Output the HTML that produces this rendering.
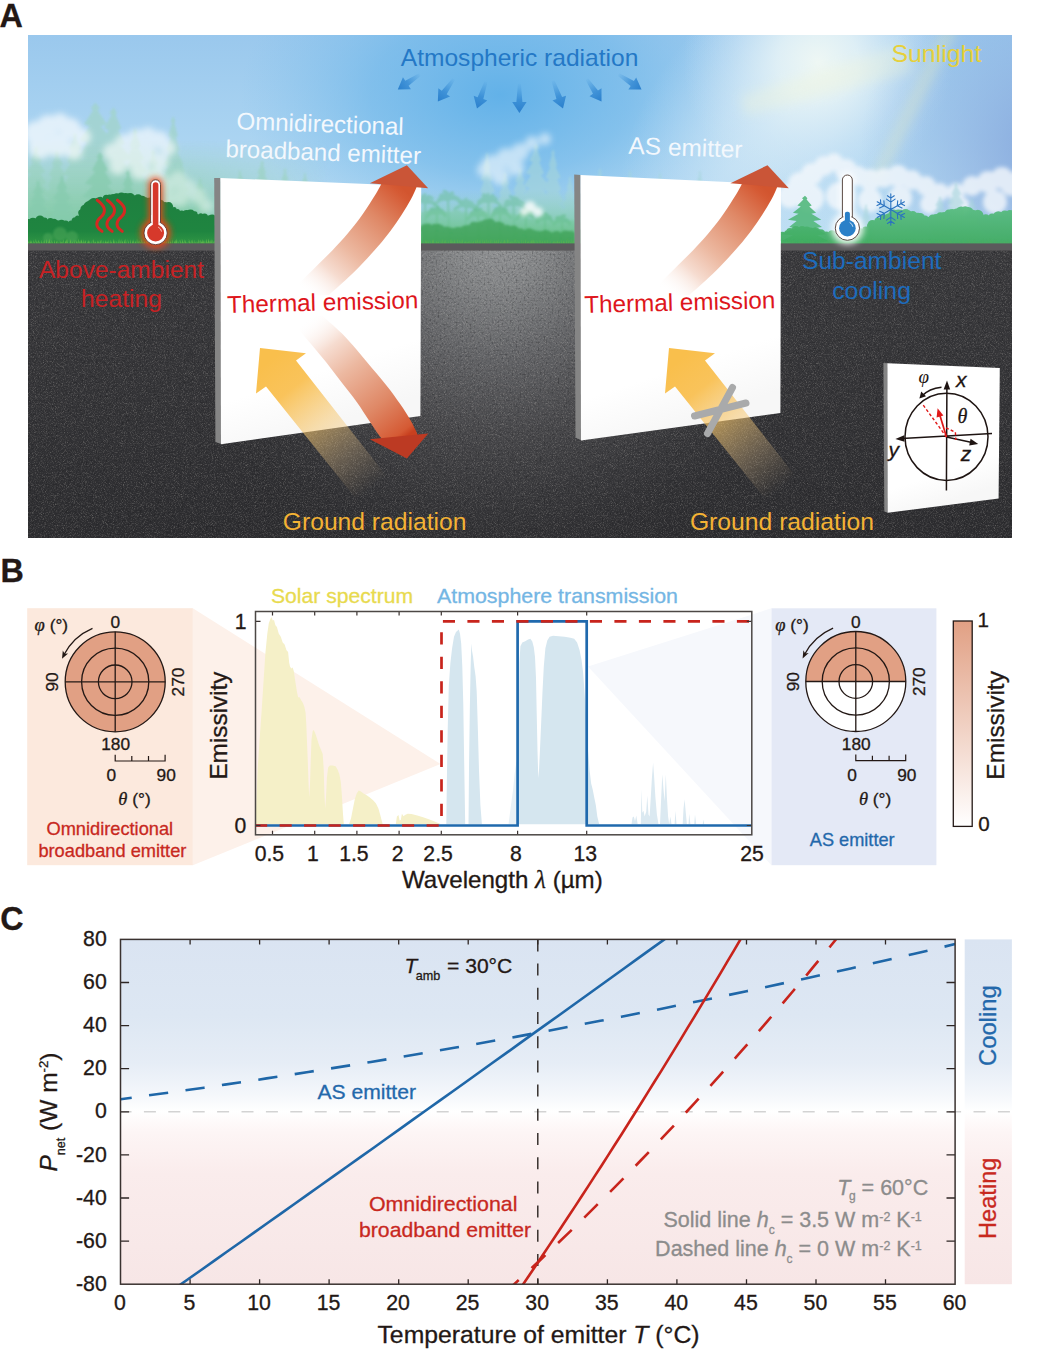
<!DOCTYPE html>
<html><head><meta charset="utf-8"><title>Figure</title>
<style>
html,body{margin:0;padding:0;background:#fff;}
svg{display:block;font-family:"Liberation Sans",sans-serif;}
.se{font-family:"Liberation Serif",serif;font-style:italic;}
.it{font-style:italic;}
.b{font-weight:bold;}
</style></head><body>
<svg width="1040" height="1351" viewBox="0 0 1040 1351">
<defs>
<clipPath id="clipA"><rect x="28" y="35" width="984" height="503"/></clipPath>
<linearGradient id="sky" x1="0" y1="35" x2="0" y2="244" gradientUnits="userSpaceOnUse">
<stop offset="0" stop-color="#9ac8ed"/><stop offset="0.45" stop-color="#a9d3f1"/><stop offset="1" stop-color="#bfdff3"/></linearGradient>
<radialGradient id="skyBlue" cx="500" cy="95" r="260" gradientUnits="userSpaceOnUse" gradientTransform="translate(500 95) scale(1 0.62) translate(-500 -95)">
<stop offset="0" stop-color="#5fb0e8" stop-opacity="0.95"/><stop offset="0.5" stop-color="#6ab5e9" stop-opacity="0.6"/><stop offset="1" stop-color="#7fbfec" stop-opacity="0"/></radialGradient>
<radialGradient id="skyGlow" cx="818" cy="62" r="135" gradientUnits="userSpaceOnUse">
<stop offset="0" stop-color="#eef7f4" stop-opacity="1"/><stop offset="0.3" stop-color="#e4f2f6" stop-opacity="0.85"/><stop offset="0.65" stop-color="#d4e9f6" stop-opacity="0.4"/><stop offset="1" stop-color="#c8e2f5" stop-opacity="0"/></radialGradient>
<radialGradient id="skyGlow2" cx="790" cy="108" r="165" gradientUnits="userSpaceOnUse" gradientTransform="translate(790 108) rotate(-45) scale(1.25 0.75) translate(-790 -108)">
<stop offset="0" stop-color="#dceef7" stop-opacity="0.85"/><stop offset="0.4" stop-color="#d2e8f6" stop-opacity="0.6"/><stop offset="0.75" stop-color="#c6e1f5" stop-opacity="0.25"/><stop offset="1" stop-color="#c0def4" stop-opacity="0"/></radialGradient>
<radialGradient id="skyDark" cx="1050" cy="150" r="190" gradientUnits="userSpaceOnUse">
<stop offset="0" stop-color="#7f9fd8" stop-opacity="0.85"/><stop offset="1" stop-color="#8fb0e0" stop-opacity="0"/></radialGradient>
<filter id="bl2" x="-20%" y="-20%" width="140%" height="140%"><feGaussianBlur stdDeviation="2"/></filter>
<filter id="bl3" x="-20%" y="-20%" width="140%" height="140%"><feGaussianBlur stdDeviation="3.2"/></filter>
<filter id="bl6" x="-30%" y="-30%" width="160%" height="160%"><feGaussianBlur stdDeviation="6"/></filter>
<filter id="bl1" x="-20%" y="-20%" width="140%" height="140%"><feGaussianBlur stdDeviation="0.8"/></filter>

<linearGradient id="hazeL" x1="0" y1="140" x2="0" y2="243" gradientUnits="userSpaceOnUse"><stop offset="0" stop-color="#a0d5c6" stop-opacity="0"/><stop offset="0.3" stop-color="#98d2bc" stop-opacity="0.55"/><stop offset="0.6" stop-color="#8acdad" stop-opacity="0.85"/><stop offset="1" stop-color="#70c394" stop-opacity="0.97"/></linearGradient>
<linearGradient id="hazeLx" x1="28" y1="0" x2="330" y2="0" gradientUnits="userSpaceOnUse"><stop offset="0" stop-color="#fff" stop-opacity="1"/><stop offset="0.5" stop-color="#fff" stop-opacity="1"/><stop offset="0.75" stop-color="#fff" stop-opacity="0.55"/><stop offset="1" stop-color="#fff" stop-opacity="0"/></linearGradient><mask id="mHazeL"><rect x="28" y="100" width="310" height="150" fill="url(#hazeLx)"/></mask>
<linearGradient id="bushG" x1="0" y1="196" x2="0" y2="243" gradientUnits="userSpaceOnUse"><stop offset="0" stop-color="#1e8040"/><stop offset="0.75" stop-color="#1f8540"/><stop offset="1" stop-color="#2e9444"/></linearGradient>
<linearGradient id="hazeM" x1="0" y1="190" x2="0" y2="243" gradientUnits="userSpaceOnUse"><stop offset="0" stop-color="#86cfae" stop-opacity="0"/><stop offset="0.55" stop-color="#6cc592" stop-opacity="0.5"/><stop offset="1" stop-color="#55b86c" stop-opacity="0.9"/></linearGradient>
<linearGradient id="bushR" x1="0" y1="205" x2="0" y2="243" gradientUnits="userSpaceOnUse"><stop offset="0" stop-color="#58bd80"/><stop offset="1" stop-color="#3dab5e"/></linearGradient>
<radialGradient id="gndLight" cx="498" cy="236" r="340" gradientUnits="userSpaceOnUse">
<stop offset="0" stop-color="#939597" stop-opacity="1"/><stop offset="0.14" stop-color="#858789" stop-opacity="1"/><stop offset="0.34" stop-color="#66676a" stop-opacity="1"/><stop offset="0.58" stop-color="#4a4a4d" stop-opacity="0.9"/><stop offset="0.82" stop-color="#3b3b3e" stop-opacity="0.5"/><stop offset="1" stop-color="#333336" stop-opacity="0"/></radialGradient>
<linearGradient id="gndBase" x1="0" y1="250" x2="0" y2="538" gradientUnits="userSpaceOnUse"><stop offset="0" stop-color="#39393c"/><stop offset="0.5" stop-color="#343437"/><stop offset="1" stop-color="#2d2d30"/></linearGradient>
<filter id="asph" x="0" y="0" width="100%" height="100%" color-interpolation-filters="sRGB">
<feTurbulence type="fractalNoise" baseFrequency="1.1" numOctaves="2" seed="4"/>
<feColorMatrix type="matrix" values="0 0 0 0 0.85  0 0 0 0 0.83  0 0 0 0 0.8  1.6 1.6 0 0 -1.55"/><feGaussianBlur stdDeviation="0.45"/></filter>
<filter id="asphD" x="0" y="0" width="100%" height="100%" color-interpolation-filters="sRGB">
<feTurbulence type="fractalNoise" baseFrequency="0.5" numOctaves="2" seed="11"/>
<feColorMatrix type="matrix" values="0 0 0 0 0.05  0 0 0 0 0.05  0 0 0 0 0.06  1.5 0 1.5 0 -1.45"/><feGaussianBlur stdDeviation="0.5"/></filter>

<linearGradient id="atmA" x1="0" y1="0" x2="1" y2="0"><stop offset="0" stop-color="#3a8fd6" stop-opacity="0.05"/><stop offset="0.55" stop-color="#2f86d2" stop-opacity="0.75"/><stop offset="1" stop-color="#2a7fcc" stop-opacity="1"/></linearGradient>
<linearGradient id="pnl" x1="0" y1="0" x2="0.25" y2="1"><stop offset="0" stop-color="#ffffff"/><stop offset="0.8" stop-color="#ffffff"/><stop offset="1" stop-color="#f7f7f7"/></linearGradient>
<linearGradient id="redUp1" x1="297" y1="298" x2="398" y2="184" gradientUnits="userSpaceOnUse"><stop offset="0.06" stop-color="#ffffff" stop-opacity="0"/><stop offset="0.28" stop-color="#f6dcd0"/><stop offset="0.46" stop-color="#ecb8a0"/><stop offset="0.745" stop-color="#df8866"/><stop offset="0.96" stop-color="#d55a34"/><stop offset="1" stop-color="#d2552f"/></linearGradient>
<linearGradient id="redUp2" x1="658" y1="298" x2="759" y2="184" gradientUnits="userSpaceOnUse"><stop offset="0.06" stop-color="#ffffff" stop-opacity="0"/><stop offset="0.28" stop-color="#f6dcd0"/><stop offset="0.46" stop-color="#ecb8a0"/><stop offset="0.745" stop-color="#df8866"/><stop offset="0.96" stop-color="#d55a34"/><stop offset="1" stop-color="#d2552f"/></linearGradient>
<linearGradient id="redDn1" x1="300" y1="312" x2="402" y2="440" gradientUnits="userSpaceOnUse"><stop offset="0.06" stop-color="#ffffff" stop-opacity="0"/><stop offset="0.28" stop-color="#f6dcd0"/><stop offset="0.46" stop-color="#ecb8a0"/><stop offset="0.745" stop-color="#df8866"/><stop offset="0.96" stop-color="#d55a34"/><stop offset="1" stop-color="#c8401f"/></linearGradient>
<linearGradient id="gr1" x1="270" y1="360" x2="372" y2="488" gradientUnits="userSpaceOnUse"><stop offset="0" stop-color="#f9bf4c" stop-opacity="1"/><stop offset="0.22" stop-color="#f9c052" stop-opacity="0.95"/><stop offset="0.5" stop-color="#f6c770" stop-opacity="0.55"/><stop offset="0.75" stop-color="#e8c48c" stop-opacity="0.28"/><stop offset="1" stop-color="#e0c090" stop-opacity="0"/></linearGradient>
<linearGradient id="gr2" x1="679" y1="360" x2="781" y2="488" gradientUnits="userSpaceOnUse"><stop offset="0" stop-color="#f9bf4c" stop-opacity="1"/><stop offset="0.22" stop-color="#f9c052" stop-opacity="0.95"/><stop offset="0.5" stop-color="#f6c770" stop-opacity="0.55"/><stop offset="0.75" stop-color="#e8c48c" stop-opacity="0.28"/><stop offset="1" stop-color="#e0c090" stop-opacity="0"/></linearGradient>
<linearGradient id="gCB" x1="0" y1="0" x2="0" y2="1"><stop offset="0" stop-color="#e1a084"/><stop offset="1" stop-color="#ffffff"/></linearGradient>
<linearGradient id="gC" x1="0" y1="0" x2="0" y2="1">
<stop offset="0" stop-color="#dae4f2"/>
<stop offset="0.22" stop-color="#dde7f3"/>
<stop offset="0.36" stop-color="#e6edf6"/>
<stop offset="0.45" stop-color="#f4f7fb"/>
<stop offset="0.50" stop-color="#ffffff"/>
<stop offset="0.56" stop-color="#fdf5f5"/>
<stop offset="0.68" stop-color="#faecec"/>
<stop offset="1" stop-color="#f7e6e6"/>
</linearGradient>
<clipPath id="clipC"><rect x="120.5" y="939.4" width="834.6" height="344.8"/></clipPath>
</defs>
<rect x="0" y="0" width="1040" height="1351" fill="#ffffff"/>
<g id="panelA">
<text x="-0.4" y="26.7" font-size="32.3" fill="#231815" text-anchor="start" class="b" stroke="#231815" stroke-width="0.3">A</text>
<g clip-path="url(#clipA)">
<rect x="28" y="35" width="984" height="210.4" fill="url(#sky)"/>
<rect x="28" y="35" width="984" height="210.4" fill="url(#skyBlue)"/>
<rect x="28" y="35" width="984" height="210.4" fill="url(#skyGlow2)"/>
<rect x="28" y="35" width="984" height="210.4" fill="url(#skyGlow)"/>
<rect x="28" y="35" width="984" height="210.4" fill="url(#skyDark)"/>
<g filter="url(#bl6)" opacity="0.3">
<polygon points="944,28 958,28 880,182 870,180" fill="#f4f2b4"/>
<polygon points="905,44 914,72 745,116 740,96" fill="#f6f7d4"/>
</g>
<g fill="#a2d4cc" opacity="0.8" filter="url(#bl1)">
<polygon points="95.3,102.5 99.9,108.1 97.7,110.5 107.0,124.0 101.0,126.4 112.3,140.0 103.7,142.4 114.3,155.9 106.2,158.3 119.9,171.9 108.5,174.2 119.1,187.8 110.8,190.2 123.9,203.7 113.0,206.1 131.2,219.7 115.1,222.1 130.3,235.6 117.2,238.0 143.7,251.6 131.3,246.0 59.3,246.0 56.1,251.6 73.4,238.0 62.9,235.6 75.5,222.1 59.7,219.7 77.6,206.1 64.4,203.7 79.8,190.2 64.2,187.8 82.1,174.2 68.4,171.9 84.4,158.3 79.1,155.9 86.9,142.4 79.2,140.0 89.6,126.4 84.1,124.0 92.9,110.5 90.9,108.1"/>
<polygon points="113.6,107.3 116.8,112.7 115.6,115.0 121.2,128.1 118.5,130.4 124.6,143.5 120.8,145.8 132.0,158.9 122.9,161.2 131.6,174.3 124.9,176.6 139.8,189.7 126.8,192.1 144.4,205.2 128.6,207.5 145.2,220.6 130.5,222.9 151.5,236.0 132.3,238.3 155.4,251.4 144.2,246.0 83.0,246.0 75.2,251.4 94.9,238.3 84.0,236.0 96.7,222.9 83.4,220.6 98.6,207.5 88.9,205.2 100.4,192.1 86.5,189.7 102.3,176.6 95.7,174.3 104.3,161.2 100.0,158.9 106.4,145.8 100.5,143.5 108.7,130.4 104.1,128.1 111.6,115.0 109.7,112.7"/>
<polygon points="173.2,116.0 175.2,121.1 174.4,123.2 177.7,135.5 176.1,137.7 179.5,149.9 177.4,152.1 183.2,164.4 178.6,166.6 185.6,178.8 179.8,181.0 186.0,193.3 181.0,195.4 188.7,207.7 182.1,209.9 190.6,222.2 183.1,224.3 189.7,236.6 184.2,238.8 191.0,251.1 191.2,246.0 155.2,246.0 148.6,251.1 162.2,238.8 152.5,236.6 163.3,224.3 156.8,222.2 164.3,209.9 155.9,207.7 165.4,195.4 160.3,193.3 166.6,181.0 163.5,178.8 167.8,166.6 164.2,164.4 169.0,152.1 166.7,149.9 170.3,137.7 168.4,135.5 172.0,123.2 170.8,121.1"/>
<polygon points="56.8,150.0 59.4,153.7 58.1,155.3 62.9,164.4 60.0,166.0 65.2,175.1 61.4,176.7 65.8,185.7 62.8,187.3 71.7,196.4 64.1,198.0 73.2,207.1 65.3,208.7 76.6,217.7 66.5,219.3 75.1,228.4 67.7,230.0 80.1,239.1 68.9,240.7 82.1,249.7 76.6,246.0 37.0,246.0 36.6,249.7 44.7,240.7 35.3,239.1 45.9,230.0 38.5,228.4 47.1,219.3 37.1,217.7 48.3,208.7 43.3,207.1 49.5,198.0 45.3,196.4 50.8,187.3 48.0,185.7 52.2,176.7 49.0,175.1 53.6,166.0 52.1,164.4 55.5,155.3 54.3,153.7"/>
<polygon points="153.0,149.6 155.1,153.3 154.1,155.0 158.3,164.1 155.6,165.7 159.3,174.8 156.8,176.4 162.9,185.5 157.9,187.1 165.0,196.2 159.0,197.8 164.5,206.9 160.0,208.5 165.5,217.6 161.0,219.2 166.9,228.3 161.9,229.9 173.4,239.0 162.9,240.6 169.2,249.7 169.2,246.0 136.8,246.0 136.1,249.7 143.1,240.6 134.4,239.0 144.1,229.9 139.5,228.3 145.0,219.2 139.8,217.6 146.0,208.5 140.5,206.9 147.0,197.8 143.0,196.2 148.1,187.1 144.0,185.5 149.2,176.4 147.2,174.8 150.4,165.7 149.2,164.1 151.9,155.0 150.9,153.3"/>
<polygon points="180.9,159.0 182.6,162.4 181.9,163.8 184.6,172.0 183.2,173.5 187.5,181.7 184.3,183.2 188.4,191.4 185.3,192.8 191.6,201.0 186.2,202.5 191.8,210.7 187.1,212.2 191.8,220.4 188.0,221.8 197.1,230.1 188.8,231.5 197.9,239.7 189.7,241.2 197.5,249.4 195.3,246.0 166.5,246.0 166.2,249.4 172.1,241.2 164.7,239.7 173.0,231.5 165.8,230.1 173.8,221.8 167.0,220.4 174.7,212.2 171.7,210.7 175.6,202.5 173.0,201.0 176.5,192.8 173.3,191.4 177.5,183.2 174.8,181.7 178.6,173.5 177.0,172.0 179.9,163.8 178.9,162.4"/>
<polygon points="36.0,146.0 38.6,149.9 37.3,151.6 41.5,161.0 39.2,162.7 45.2,172.1 40.6,173.8 46.4,183.2 42.0,184.9 49.9,194.3 43.3,196.0 50.0,205.4 44.5,207.1 51.1,216.6 45.7,218.2 58.5,227.7 46.9,229.3 58.2,238.8 48.1,240.4 58.0,249.9 55.8,246.0 16.2,246.0 12.7,249.9 23.9,240.4 11.3,238.8 25.1,229.3 17.5,227.7 26.3,218.2 19.4,216.6 27.5,207.1 21.0,205.4 28.7,196.0 23.2,194.3 30.0,184.9 23.7,183.2 31.4,173.8 26.4,172.1 32.8,162.7 30.8,161.0 34.7,151.6 33.9,149.9"/>
<polygon points="75.0,132.0 77.2,136.4 76.3,138.3 81.3,149.1 78.2,151.0 84.0,161.8 79.6,163.7 86.3,174.4 81.0,176.3 89.0,187.1 82.3,189.0 91.1,199.8 83.5,201.7 92.1,212.4 84.7,214.3 95.5,225.1 85.9,227.0 99.5,237.8 87.1,239.7 99.0,250.4 94.8,246.0 55.2,246.0 50.5,250.4 62.9,239.7 55.2,237.8 64.1,227.0 54.0,225.1 65.3,214.3 59.1,212.4 66.5,201.7 60.6,199.8 67.7,189.0 61.4,187.1 69.0,176.3 63.4,174.4 70.4,163.7 67.2,161.8 71.8,151.0 68.9,149.1 73.7,138.3 73.0,136.4"/>
<polygon points="135.0,128.0 137.4,132.6 136.3,134.6 140.9,145.7 138.2,147.7 144.1,158.8 139.6,160.8 146.7,171.9 141.0,173.9 148.5,185.0 142.3,187.0 151.7,198.1 143.5,200.1 154.2,211.3 144.7,213.2 155.5,224.4 145.9,226.3 159.6,237.5 147.1,239.4 158.6,250.6 154.8,246.0 115.2,246.0 111.5,250.6 122.9,239.4 110.2,237.5 124.1,226.3 113.3,224.4 125.3,213.2 118.7,211.3 126.5,200.1 118.7,198.1 127.7,187.0 122.8,185.0 129.0,173.9 123.9,171.9 130.4,160.8 126.9,158.8 131.8,147.7 129.9,145.7 133.7,134.6 133.1,132.6"/>
<polygon points="200.0,178.0 201.8,180.6 200.9,181.8 203.8,188.2 202.2,189.3 206.0,195.8 203.2,196.9 206.4,203.3 204.1,204.4 209.0,210.9 205.0,212.0 210.0,218.4 205.8,219.6 212.8,226.0 206.6,227.1 214.1,233.5 207.4,234.7 212.9,241.1 208.2,242.2 216.7,248.6 213.5,246.0 186.5,246.0 184.4,248.6 191.8,242.2 187.8,241.1 192.6,234.7 186.2,233.5 193.4,227.1 187.8,226.0 194.2,219.6 189.1,218.4 195.0,212.0 190.4,210.9 195.9,204.4 192.2,203.3 196.8,196.9 194.1,195.8 197.8,189.3 195.6,188.2 199.1,181.8 198.6,180.6"/>
<polygon points="262.0,160.0 264.0,163.3 263.1,164.8 265.9,172.9 264.6,174.3 268.1,182.5 265.8,183.9 269.6,192.0 266.9,193.4 271.4,201.6 268.0,203.0 272.4,211.1 269.0,212.6 275.5,220.7 270.0,222.1 278.3,230.2 270.9,231.7 281.8,239.8 271.9,241.2 280.5,249.3 278.2,246.0 245.8,246.0 246.2,249.3 252.1,241.2 246.1,239.8 253.1,231.7 245.6,230.2 254.0,222.1 248.1,220.7 255.0,212.6 251.0,211.1 256.0,203.0 252.1,201.6 257.1,193.4 254.7,192.0 258.2,183.9 255.4,182.5 259.4,174.3 257.2,172.9 260.9,164.8 260.3,163.3"/>
<polygon points="240.0,170.0 241.4,173.0 240.8,174.2 243.9,181.4 242.0,182.7 244.4,189.8 242.9,191.1 245.8,198.3 243.8,199.6 247.7,206.7 244.6,208.0 251.1,215.2 245.4,216.4 250.6,223.6 246.2,224.9 252.9,232.1 246.9,233.3 251.9,240.5 247.7,241.8 255.2,249.0 252.6,246.0 227.4,246.0 224.7,249.0 232.3,241.8 227.0,240.5 233.1,233.3 226.4,232.1 233.8,224.9 227.9,223.6 234.6,216.4 230.1,215.2 235.4,208.0 231.7,206.7 236.2,199.6 233.0,198.3 237.1,191.1 235.0,189.8 238.0,182.7 236.9,181.4 239.2,174.2 238.6,173.0"/>
<polygon points="285.0,168.0 286.7,171.0 285.8,172.3 288.4,179.7 287.0,181.0 289.3,188.4 287.9,189.7 291.9,197.0 288.8,198.3 292.2,205.7 289.6,207.0 295.9,214.4 290.4,215.7 295.7,223.0 291.2,224.3 296.4,231.7 291.9,233.0 298.0,240.4 292.7,241.7 301.9,249.0 297.6,246.0 272.4,246.0 267.8,249.0 277.3,241.7 269.3,240.4 278.1,233.0 273.9,231.7 278.8,224.3 274.5,223.0 279.6,215.7 275.0,214.4 280.4,207.0 276.5,205.7 281.2,198.3 279.2,197.0 282.1,189.7 279.1,188.4 283.0,181.0 281.3,179.7 284.2,172.3 283.3,171.0"/>
<polygon points="305.0,172.0 306.2,174.9 305.7,176.1 308.0,183.1 306.7,184.3 309.2,191.3 307.5,192.6 310.8,199.5 308.3,200.8 312.0,207.8 309.0,209.0 313.6,216.0 309.7,217.2 313.7,224.2 310.3,225.4 316.7,232.4 311.0,233.7 316.8,240.7 311.6,241.9 319.6,248.9 315.8,246.0 294.2,246.0 293.3,248.9 298.4,241.9 295.3,240.7 299.0,233.7 293.5,232.4 299.7,225.4 295.8,224.2 300.3,217.2 297.8,216.0 301.0,209.0 298.5,207.8 301.7,200.8 298.3,199.5 302.5,192.6 300.7,191.3 303.3,184.3 301.5,183.1 304.3,176.1 303.7,174.9"/>
</g>
<rect x="28" y="140" width="310" height="104" fill="url(#hazeL)" mask="url(#mHazeL)"/>
<g filter="url(#bl3)" opacity="0.66" fill="#ffffff"><circle cx="36" cy="133" r="12"/><circle cx="48" cy="126" r="11"/><circle cx="60" cy="122" r="9"/><circle cx="70" cy="129" r="11"/><circle cx="82" cy="137" r="9"/><circle cx="40" cy="147" r="12"/><circle cx="58" cy="145" r="12"/><circle cx="74" cy="151" r="9"/></g>
<g filter="url(#bl3)" opacity="0.6" fill="#ffffff"><circle cx="112" cy="152" r="9"/><circle cx="124" cy="144" r="10"/><circle cx="136" cy="138" r="9"/><circle cx="148" cy="136" r="9"/><circle cx="160" cy="140" r="9"/><circle cx="168" cy="148" r="8"/><circle cx="130" cy="156" r="11"/><circle cx="146" cy="154" r="11"/><circle cx="160" cy="162" r="9"/><circle cx="118" cy="166" r="9"/><circle cx="140" cy="170" r="10"/><circle cx="156" cy="176" r="9"/></g>
<g filter="url(#bl3)" opacity="0.6" fill="#dff2ea"><circle cx="166" cy="186" r="9"/><circle cx="178" cy="180" r="9"/><circle cx="188" cy="188" r="9"/><circle cx="198" cy="196" r="8"/><circle cx="180" cy="198" r="9"/><circle cx="206" cy="206" r="7"/><circle cx="168" cy="200" r="7"/></g>
<g fill="#86cbae" opacity="0.7" filter="url(#bl1)">
<polygon points="100.0,152.0 102.9,156.7 101.8,158.7 107.6,170.1 104.9,172.1 112.1,183.6 107.4,185.6 117.0,197.0 109.7,199.0 121.7,210.4 111.9,212.4 121.5,223.8 114.0,225.9 126.4,237.3 116.0,239.3 130.0,250.7 127.0,246.0 73.0,246.0 67.8,250.7 84.0,239.3 69.2,237.3 86.0,225.9 73.3,223.8 88.1,212.4 78.0,210.4 90.3,199.0 82.3,197.0 92.6,185.6 84.8,183.6 95.1,172.1 92.0,170.1 98.2,158.7 96.5,156.7"/>
<polygon points="62.0,175.0 64.1,178.6 63.2,180.1 67.5,188.7 65.3,190.2 71.0,198.8 66.9,200.4 72.4,209.0 68.5,210.5 78.0,219.1 69.9,220.6 78.7,229.3 71.3,230.8 82.6,239.4 72.7,240.9 83.7,249.6 80.0,246.0 44.0,246.0 41.3,249.6 51.3,240.9 46.3,239.4 52.7,230.8 43.4,229.3 54.1,220.6 48.2,219.1 55.5,210.5 52.4,209.0 57.1,200.4 52.6,198.8 58.7,190.2 56.3,188.7 60.8,180.1 60.0,178.6"/>
<polygon points="38.0,180.0 40.0,183.3 39.1,184.7 43.9,192.7 40.9,194.1 45.5,202.2 42.4,203.6 47.2,211.6 43.8,213.0 52.0,221.0 45.1,222.4 54.5,230.4 46.4,231.9 54.6,239.9 47.6,241.3 58.9,249.3 54.2,246.0 21.8,246.0 20.3,249.3 28.4,241.3 19.9,239.9 29.6,231.9 25.4,230.4 30.9,222.4 26.3,221.0 32.2,213.0 26.5,211.6 33.6,203.6 30.5,202.2 35.1,194.1 32.8,192.7 36.9,184.7 36.0,183.3"/>
<polygon points="128.0,170.0 129.7,173.8 129.1,175.4 133.3,184.7 130.9,186.3 135.4,195.5 132.4,197.1 138.6,206.4 133.8,208.0 138.7,217.2 135.1,218.9 144.4,228.1 136.4,229.7 145.9,238.9 137.6,240.6 148.5,249.8 144.2,246.0 111.8,246.0 112.0,249.8 118.4,240.6 109.3,238.9 119.6,229.7 114.5,228.1 120.9,218.9 114.1,217.2 122.2,208.0 118.9,206.4 123.6,197.1 120.2,195.5 125.1,186.3 122.8,184.7 126.9,175.4 125.8,173.8"/>
</g>
<g fill="url(#bushG)" ><polygon points="28.0,245.0 28.0,222.0 40.0,219.0 52.0,221.0 64.0,224.0 74.0,222.0 80.0,214.0 87.0,206.0 96.0,200.0 108.0,197.0 120.0,196.0 132.0,197.0 144.0,199.0 156.0,202.0 168.0,205.0 176.0,210.0 184.0,214.0 194.0,213.0 204.0,216.0 216.0,219.0 216.0,245.0"/><circle cx="28.6" cy="222.8" r="3.8"/><circle cx="32.9" cy="221.8" r="4.0"/><circle cx="37.5" cy="220.3" r="2.6"/><circle cx="40.0" cy="220.1" r="4.6"/><circle cx="44.6" cy="220.5" r="3.0"/><circle cx="50.4" cy="221.6" r="3.6"/><circle cx="54.0" cy="222.4" r="3.6"/><circle cx="57.5" cy="223.1" r="2.8"/><circle cx="61.5" cy="224.5" r="4.7"/><circle cx="65.6" cy="224.8" r="4.3"/><circle cx="71.0" cy="223.2" r="2.6"/><circle cx="75.4" cy="221.2" r="3.9"/><circle cx="77.5" cy="217.9" r="2.5"/><circle cx="81.8" cy="212.8" r="3.6"/><circle cx="85.0" cy="209.4" r="4.7"/><circle cx="88.3" cy="206.3" r="4.8"/><circle cx="90.7" cy="204.6" r="4.5"/><circle cx="93.8" cy="202.7" r="4.8"/><circle cx="98.1" cy="200.1" r="2.7"/><circle cx="100.3" cy="199.7" r="3.0"/><circle cx="106.3" cy="198.3" r="3.5"/><circle cx="109.5" cy="197.7" r="3.2"/><circle cx="113.2" cy="197.4" r="3.4"/><circle cx="116.8" cy="197.2" r="3.9"/><circle cx="121.4" cy="197.3" r="4.8"/><circle cx="125.6" cy="197.7" r="4.8"/><circle cx="130.1" cy="198.1" r="5.0"/><circle cx="133.6" cy="198.0" r="2.8"/><circle cx="138.1" cy="199.2" r="4.9"/><circle cx="142.2" cy="199.7" r="3.9"/><circle cx="145.7" cy="200.2" r="2.9"/><circle cx="150.0" cy="201.5" r="3.9"/><circle cx="152.7" cy="201.8" r="2.6"/><circle cx="158.0" cy="203.8" r="5.0"/><circle cx="160.2" cy="204.2" r="4.5"/><circle cx="165.0" cy="204.9" r="2.8"/><circle cx="168.7" cy="206.5" r="4.4"/><circle cx="174.1" cy="209.4" r="2.5"/><circle cx="177.5" cy="211.4" r="2.5"/><circle cx="181.7" cy="213.7" r="3.3"/><circle cx="186.6" cy="215.0" r="4.9"/><circle cx="190.5" cy="214.6" r="5.0"/><circle cx="194.9" cy="213.9" r="2.6"/><circle cx="200.8" cy="215.7" r="2.5"/><circle cx="204.5" cy="217.0" r="3.5"/><circle cx="209.5" cy="218.1" r="2.8"/><circle cx="212.1" cy="219.2" r="4.7"/></g>
<g fill="#4aa457" opacity="0.6" filter="url(#bl1)"><circle cx="60" cy="234" r="7"/><circle cx="72" cy="237" r="6"/><circle cx="48" cy="238" r="5"/></g>
<path d="M28.0,243.6L29.0,240.6L29.4,243.6ZM29.6,243.6L30.9,240.5L31.0,243.6ZM31.2,243.6L30.7,239.6L32.3,243.6ZM32.6,243.6L33.7,239.3L33.6,243.6ZM33.9,243.6L35.4,240.4L34.8,243.6ZM35.8,243.6L35.5,238.5L37.1,243.6ZM37.2,243.6L38.6,239.6L38.2,243.6ZM38.6,243.6L38.6,240.6L40.1,243.6ZM40.8,243.6L41.1,239.7L42.0,243.6ZM42.3,243.6L43.5,240.5L43.3,243.6ZM43.6,243.6L45.1,238.8L44.7,243.6ZM45.7,243.6L46.6,238.8L47.1,243.6ZM47.6,243.6L48.8,240.7L48.8,243.6ZM48.8,243.6L49.4,238.3L50.3,243.6ZM50.2,243.6L51.8,239.7L51.4,243.6ZM51.7,243.6L52.6,241.0L52.7,243.6ZM53.9,243.6L54.6,239.6L55.1,243.6ZM55.8,243.6L56.6,240.4L57.1,243.6ZM57.5,243.6L57.7,240.6L58.6,243.6ZM59.7,243.6L59.9,240.1L61.0,243.6ZM60.8,243.6L62.1,240.9L62.2,243.6ZM62.2,243.6L63.7,239.0L63.6,243.6ZM64.4,243.6L66.1,239.9L66.0,243.6ZM66.1,243.6L66.5,238.5L67.3,243.6ZM67.4,243.6L67.0,238.5L68.4,243.6ZM69.4,243.6L70.6,238.8L70.6,243.6ZM70.4,243.6L70.8,240.3L71.5,243.6ZM71.6,243.6L73.0,240.9L72.8,243.6ZM73.8,243.6L73.9,238.9L75.0,243.6ZM75.9,243.6L75.7,239.5L77.4,243.6ZM77.2,243.6L78.7,238.6L78.7,243.6ZM78.9,243.6L80.3,239.8L80.2,243.6ZM80.3,243.6L81.4,239.5L81.4,243.6ZM81.3,243.6L81.1,239.0L82.9,243.6ZM83.0,243.6L83.9,239.2L84.5,243.6ZM84.3,243.6L85.9,239.9L85.9,243.6ZM85.5,243.6L85.0,240.8L86.5,243.6ZM87.0,243.6L88.1,240.7L88.5,243.6ZM88.2,243.6L88.7,239.5L89.3,243.6ZM89.4,243.6L89.7,240.6L90.5,243.6ZM91.3,243.6L92.2,239.4L92.2,243.6ZM93.3,243.6L93.1,238.8L94.8,243.6ZM94.9,243.6L95.0,240.9L96.3,243.6ZM96.8,243.6L97.1,240.3L98.1,243.6ZM97.8,243.6L99.2,239.9L98.9,243.6ZM99.2,243.6L100.7,239.6L100.4,243.6ZM100.3,243.6L101.4,239.3L101.5,243.6ZM102.4,243.6L103.2,240.2L103.8,243.6ZM104.1,243.6L105.8,240.9L105.6,243.6ZM105.5,243.6L105.5,240.1L107.1,243.6ZM106.6,243.6L107.9,240.9L108.1,243.6ZM108.2,243.6L108.9,239.2L109.1,243.6ZM109.7,243.6L110.1,239.5L110.9,243.6ZM111.0,243.6L111.1,241.0L112.2,243.6ZM112.8,243.6L113.4,238.6L114.2,243.6ZM114.1,243.6L115.0,239.9L115.3,243.6ZM116.2,243.6L116.8,240.8L117.5,243.6ZM118.1,243.6L119.1,238.4L119.6,243.6ZM120.0,243.6L121.2,239.1L121.5,243.6ZM121.8,243.6L122.4,240.4L123.4,243.6ZM123.6,243.6L125.3,238.6L125.2,243.6ZM124.6,243.6L124.9,240.2L125.7,243.6ZM125.8,243.6L125.8,239.4L126.7,243.6ZM127.9,243.6L127.7,238.9L129.1,243.6ZM130.0,243.6L130.2,239.0L131.1,243.6ZM131.8,243.6L133.3,239.1L132.9,243.6ZM133.2,243.6L133.2,240.3L134.7,243.6ZM135.0,243.6L135.2,240.5L136.3,243.6ZM136.5,243.6L137.0,238.3L137.7,243.6ZM138.2,243.6L138.5,240.3L139.2,243.6ZM139.5,243.6L139.4,240.5L141.1,243.6ZM141.5,243.6L141.2,238.3L142.9,243.6ZM143.1,243.6L144.2,241.0L144.4,243.6ZM144.4,243.6L144.2,241.1L145.7,243.6ZM145.8,243.6L146.3,239.7L147.3,243.6ZM146.9,243.6L147.7,238.7L148.4,243.6ZM148.0,243.6L148.7,240.5L149.2,243.6ZM149.3,243.6L150.9,238.7L150.7,243.6ZM151.3,243.6L151.1,241.0L152.6,243.6ZM153.4,243.6L153.5,238.9L154.8,243.6ZM154.5,243.6L155.4,238.7L155.8,243.6ZM156.0,243.6L156.1,238.7L157.2,243.6ZM157.5,243.6L158.9,240.2L158.8,243.6ZM158.5,243.6L159.5,240.9L159.8,243.6ZM159.8,243.6L159.3,240.3L160.7,243.6ZM161.4,243.6L161.4,239.1L162.7,243.6ZM162.5,243.6L162.9,238.3L163.8,243.6ZM164.3,243.6L164.1,238.9L165.6,243.6ZM166.3,243.6L166.5,240.5L167.2,243.6ZM168.0,243.6L168.9,239.2L169.0,243.6ZM169.5,243.6L170.9,240.6L171.0,243.6ZM171.6,243.6L172.7,239.1L172.7,243.6ZM173.7,243.6L175.4,239.5L175.3,243.6ZM175.2,243.6L176.5,238.3L176.7,243.6ZM176.2,243.6L177.1,240.0L177.5,243.6ZM178.1,243.6L179.5,239.2L179.1,243.6ZM179.7,243.6L181.3,238.5L180.8,243.6ZM181.4,243.6L182.9,238.8L182.8,243.6ZM182.8,243.6L182.8,240.9L184.0,243.6ZM184.5,243.6L184.3,238.7L185.6,243.6ZM185.5,243.6L185.2,239.8L186.8,243.6ZM187.3,243.6L188.7,240.5L188.3,243.6ZM189.0,243.6L188.8,238.4L190.2,243.6ZM190.2,243.6L191.5,239.8L191.6,243.6ZM192.1,243.6L192.5,239.1L193.2,243.6ZM193.6,243.6L194.2,239.6L194.7,243.6ZM195.1,243.6L196.1,241.0L196.6,243.6ZM197.1,243.6L198.8,238.9L198.5,243.6ZM198.6,243.6L199.3,239.9L199.5,243.6ZM200.3,243.6L200.5,239.4L201.9,243.6ZM201.5,243.6L202.2,238.9L203.0,243.6ZM202.6,243.6L203.3,240.0L204.1,243.6ZM204.2,243.6L205.0,239.9L205.5,243.6ZM206.0,243.6L206.4,238.5L207.4,243.6ZM207.3,243.6L208.9,238.8L208.7,243.6ZM208.5,243.6L208.4,238.6L210.0,243.6ZM209.9,243.6L211.1,239.2L210.9,243.6ZM211.2,243.6L211.2,239.1L212.3,243.6ZM212.5,243.6L212.6,239.6L213.9,243.6ZM214.3,243.6L214.7,240.1L215.6,243.6ZM215.5,243.6L216.4,240.7L216.5,243.6Z" fill="#62b84c" opacity="0.9"/>
<g fill="#a6d6da" opacity="0.62" filter="url(#bl1)">
<polygon points="536.0,143.0 538.7,147.5 537.3,149.4 541.0,160.4 539.3,162.3 544.0,173.3 541.0,175.2 549.2,186.1 542.5,188.1 548.2,199.0 543.9,200.9 554.7,211.9 545.3,213.8 555.5,224.8 546.6,226.7 554.6,237.6 547.9,239.6 555.7,250.5 555.8,246.0 516.2,246.0 511.7,250.5 524.1,239.6 515.5,237.6 525.4,226.7 519.5,224.8 526.7,213.8 520.7,211.9 528.1,200.9 521.0,199.0 529.5,188.1 524.0,186.1 531.0,175.2 526.2,173.3 532.7,162.3 529.7,160.4 534.7,149.4 533.3,147.5"/>
<polygon points="553.0,149.0 554.8,153.2 554.1,155.1 557.1,165.4 555.7,167.2 560.8,177.5 557.1,179.3 561.2,189.6 558.3,191.4 563.7,201.7 559.5,203.6 566.4,213.9 560.6,215.7 567.7,226.0 561.7,227.8 571.4,238.1 562.8,239.9 572.9,250.2 569.2,246.0 536.8,246.0 536.2,250.2 543.2,239.9 538.4,238.1 544.3,227.8 535.4,226.0 545.4,215.7 539.1,213.9 546.5,203.6 541.8,201.7 547.7,191.4 542.4,189.6 548.9,179.3 545.6,177.5 550.3,167.2 548.9,165.4 551.9,155.1 551.3,153.2"/>
<polygon points="520.0,168.0 522.2,171.4 521.1,172.9 525.0,181.2 522.7,182.6 527.3,190.9 524.1,192.4 530.2,200.7 525.3,202.1 530.0,210.4 526.5,211.9 532.8,220.2 527.6,221.6 533.7,229.9 528.7,231.4 538.1,239.7 529.8,241.1 540.2,249.4 536.2,246.0 503.8,246.0 503.6,249.4 510.2,241.1 501.5,239.7 511.3,231.4 503.4,229.9 512.4,221.6 507.8,220.2 513.5,211.9 508.5,210.4 514.7,202.1 511.4,200.7 515.9,192.4 513.4,190.9 517.3,182.6 515.1,181.2 518.9,172.9 518.1,171.4"/>
<polygon points="487.0,152.0 488.3,156.1 487.8,157.9 490.4,167.9 489.1,169.6 492.6,179.6 490.2,181.4 495.0,191.4 491.1,193.1 496.6,203.1 492.0,204.9 496.2,214.9 492.9,216.6 499.7,226.6 493.8,228.4 498.7,238.4 494.6,240.1 502.7,250.1 499.6,246.0 474.4,246.0 469.8,250.1 479.4,240.1 474.9,238.4 480.2,228.4 473.2,226.6 481.1,216.6 478.1,214.9 482.0,204.9 479.5,203.1 482.9,193.1 480.2,191.4 483.8,181.4 480.7,179.6 484.9,169.6 483.1,167.9 486.2,157.9 485.7,156.1"/>
<polygon points="505.0,172.0 506.5,175.2 506.0,176.6 509.1,184.5 507.4,185.9 511.0,193.7 508.6,195.1 512.9,203.0 509.7,204.4 513.9,212.2 510.8,213.6 517.5,221.5 511.8,222.9 518.3,230.7 512.7,232.1 520.4,240.0 513.7,241.4 522.4,249.2 519.4,246.0 490.6,246.0 487.5,249.2 496.3,241.4 487.8,240.0 497.3,232.1 489.9,230.7 498.2,222.9 491.7,221.5 499.2,213.6 495.2,212.2 500.3,204.4 496.4,203.0 501.4,195.1 499.2,193.7 502.6,185.9 500.5,184.5 504.0,176.6 503.1,175.2"/>
<polygon points="570.0,176.0 571.4,179.1 570.8,180.4 573.2,187.8 572.1,189.1 574.7,196.6 573.2,197.9 577.2,205.3 574.1,206.6 577.4,214.1 575.0,215.4 581.8,222.8 575.9,224.1 581.7,231.6 576.8,232.9 581.6,240.3 577.6,241.6 583.1,249.1 582.6,246.0 557.4,246.0 556.9,249.1 562.4,241.6 556.7,240.3 563.2,232.9 557.6,231.6 564.1,224.1 559.7,222.8 565.0,215.4 560.3,214.1 565.9,206.6 561.8,205.3 566.8,197.9 565.0,196.6 567.9,189.1 566.8,187.8 569.2,180.4 568.4,179.1"/>
<polygon points="600.0,168.0 601.3,171.4 600.8,172.9 603.1,181.2 602.0,182.6 604.8,190.9 602.9,192.4 606.3,200.7 603.8,202.1 608.2,210.4 604.7,211.9 611.1,220.2 605.5,221.6 612.7,229.9 606.3,231.4 613.2,239.7 607.0,241.1 615.9,249.4 611.7,246.0 588.3,246.0 586.4,249.4 593.0,241.1 586.8,239.7 593.7,231.4 589.4,229.9 594.5,221.6 591.8,220.2 595.3,211.9 592.5,210.4 596.2,202.1 594.0,200.7 597.1,192.4 595.2,190.9 598.0,182.6 596.1,181.2 599.2,172.9 598.7,171.4"/>
<polygon points="630.0,170.0 631.3,173.3 630.7,174.8 633.4,182.8 631.8,184.2 634.2,192.3 632.7,193.8 635.2,201.8 633.5,203.2 636.5,211.3 634.3,212.8 640.4,220.8 635.1,222.2 639.6,230.3 635.8,231.8 640.6,239.8 636.5,241.2 643.7,249.3 640.8,246.0 619.2,246.0 616.3,249.3 623.5,241.2 618.6,239.8 624.2,231.8 620.2,230.3 624.9,222.2 621.4,220.8 625.7,212.8 623.1,211.3 626.5,203.2 624.4,201.8 627.3,193.8 624.8,192.3 628.2,184.2 627.0,182.8 629.3,174.8 628.9,173.3"/>
<polygon points="660.0,172.0 661.2,175.2 660.7,176.6 663.7,184.5 661.8,185.9 664.7,193.7 662.7,195.1 665.2,203.0 663.5,204.4 668.3,212.2 664.3,213.6 667.6,221.5 665.1,222.9 671.9,230.7 665.8,232.1 670.9,240.0 666.5,241.4 670.9,249.2 670.8,246.0 649.2,246.0 649.0,249.2 653.5,241.4 648.4,240.0 654.2,232.1 649.6,230.7 654.9,222.9 651.3,221.5 655.7,213.6 653.5,212.2 656.5,204.4 652.7,203.0 657.3,195.1 655.0,193.7 658.2,185.9 656.6,184.5 659.3,176.6 658.9,175.2"/>
<polygon points="700.0,170.0 701.2,173.3 700.7,174.8 702.5,182.8 701.7,184.2 703.7,192.3 702.5,193.8 704.9,201.8 703.2,203.2 706.8,211.3 704.0,212.8 707.0,220.8 704.6,222.2 710.9,230.3 705.3,231.8 710.6,239.8 706.0,241.2 711.8,249.3 709.9,246.0 690.1,246.0 688.7,249.3 694.0,241.2 690.6,239.8 694.7,231.8 692.1,230.3 695.4,222.2 692.3,220.8 696.0,212.8 693.6,211.3 696.8,203.2 694.5,201.8 697.5,193.8 696.0,192.3 698.3,184.2 696.6,182.8 699.3,174.8 698.7,173.3"/>
</g>
<g filter="url(#bl3)" opacity="0.55" fill="#ffffff"><circle cx="492" cy="166" r="11"/><circle cx="506" cy="158" r="10"/><circle cx="520" cy="152" r="9"/><circle cx="532" cy="143" r="7"/><circle cx="545" cy="139" r="6"/><circle cx="500" cy="176" r="9"/><circle cx="484" cy="170" r="7"/><circle cx="516" cy="168" r="8"/></g>
<g filter="url(#bl1)">
<g opacity="0.78"><path d="M425.0,203.0L426.2,246" stroke="#79c3b2" stroke-width="2.1" fill="none"/><path d="M425.0,203.0Q418.4,199.4 413.0,206.0M425.0,203.0Q419.9,198.2 415.8,203.0M425.0,203.0Q421.1,195.7 417.9,199.2M425.0,203.0Q423.3,194.5 421.9,196.0M425.0,203.0Q425.0,193.4 424.9,194.2M425.0,203.0Q427.6,194.4 429.8,196.6M425.0,203.0Q429.1,194.7 432.5,198.3M425.0,203.0Q430.1,198.2 434.2,203.1M425.0,203.0Q432.2,200.6 438.1,208.0" stroke="#79c3b2" stroke-width="2.6" fill="none" stroke-linecap="round"/></g>
<g opacity="0.78"><path d="M448.0,200.0L449.6,246" stroke="#79c3b2" stroke-width="2.1" fill="none"/><path d="M448.0,200.0Q440.5,197.4 434.4,205.1M448.0,200.0Q442.8,194.3 438.5,199.3M448.0,200.0Q443.7,192.0 440.2,195.8M448.0,200.0Q445.7,189.4 443.8,191.5M448.0,200.0Q447.5,191.4 447.1,192.3M448.0,200.0Q450.7,190.8 452.9,193.1M448.0,200.0Q451.9,193.4 455.1,197.0M448.0,200.0Q454.3,193.7 459.4,199.7M448.0,200.0Q455.5,196.0 461.7,203.7" stroke="#79c3b2" stroke-width="2.6" fill="none" stroke-linecap="round"/></g>
<g opacity="0.78"><path d="M466.0,207.0L465.8,246" stroke="#79c3b2" stroke-width="2.1" fill="none"/><path d="M466.0,207.0Q459.7,203.3 454.5,209.7M466.0,207.0Q461.5,203.3 457.7,207.7M466.0,207.0Q462.4,199.3 459.4,202.5M466.0,207.0Q464.3,199.3 463.0,200.8M466.0,207.0Q466.1,198.1 466.2,198.9M466.0,207.0Q467.8,199.8 469.3,201.4M466.0,207.0Q469.5,200.3 472.4,203.4M466.0,207.0Q471.9,201.7 476.7,207.4M466.0,207.0Q471.8,205.1 476.6,211.1" stroke="#79c3b2" stroke-width="2.6" fill="none" stroke-linecap="round"/></g>
<g opacity="0.78"><path d="M488.5,202.0L488.6,246" stroke="#79c3b2" stroke-width="2.1" fill="none"/><path d="M488.5,202.0Q482.2,199.6 477.0,206.1M488.5,202.0Q482.8,196.7 478.1,202.2M488.5,202.0Q485.1,195.4 482.4,198.4M488.5,202.0Q485.5,192.5 483.0,195.1M488.5,202.0Q488.2,193.4 488.0,194.2M488.5,202.0Q491.2,193.5 493.4,195.9M488.5,202.0Q492.8,194.9 496.4,198.9M488.5,202.0Q493.4,197.4 497.4,202.2M488.5,202.0Q495.4,199.2 501.1,206.2" stroke="#79c3b2" stroke-width="2.6" fill="none" stroke-linecap="round"/></g>
<g opacity="0.78"><path d="M513.5,205.0L514.7,246" stroke="#79c3b2" stroke-width="2.1" fill="none"/><path d="M513.5,205.0Q508.1,203.0 503.6,208.5M513.5,205.0Q508.6,200.4 504.6,205.1M513.5,205.0Q509.2,198.2 505.7,202.1M513.5,205.0Q511.7,195.1 510.3,196.7M513.5,205.0Q513.8,196.5 514.1,197.3M513.5,205.0Q515.5,196.8 517.2,198.5M513.5,205.0Q516.7,198.2 519.4,201.0M513.5,205.0Q519.4,198.5 524.3,204.1M513.5,205.0Q520.3,202.6 525.9,209.6" stroke="#79c3b2" stroke-width="2.6" fill="none" stroke-linecap="round"/></g>
<g opacity="0.7"><path d="M437.0,214.0L436.1,246" stroke="#62b98e" stroke-width="2.1" fill="none"/><path d="M437.0,214.0Q431.5,211.3 427.0,216.9M437.0,214.0Q432.0,208.5 428.0,213.2M437.0,214.0Q433.4,206.7 430.5,209.8M437.0,214.0Q434.8,206.9 432.9,208.9M437.0,214.0Q437.5,205.9 437.9,206.7M437.0,214.0Q438.9,207.7 440.5,209.3M437.0,214.0Q440.1,208.2 442.6,211.0M437.0,214.0Q441.7,209.5 445.5,214.0M437.0,214.0Q441.6,211.3 445.3,215.9" stroke="#62b98e" stroke-width="2.6" fill="none" stroke-linecap="round"/></g>
<g opacity="0.7"><path d="M478.0,216.0L479.2,246" stroke="#62b98e" stroke-width="2.1" fill="none"/><path d="M478.0,216.0Q472.4,213.0 467.8,218.7M478.0,216.0Q473.8,211.9 470.4,215.9M478.0,216.0Q474.0,209.9 470.8,213.5M478.0,216.0Q476.0,208.0 474.4,209.7M478.0,216.0Q477.8,207.5 477.7,208.3M478.0,216.0Q479.7,207.8 481.1,209.3M478.0,216.0Q481.5,210.1 484.3,213.2M478.0,216.0Q482.8,211.3 486.7,216.0M478.0,216.0Q483.2,213.2 487.4,218.4" stroke="#62b98e" stroke-width="2.6" fill="none" stroke-linecap="round"/></g>
<g opacity="0.7"><path d="M500.0,214.0L500.3,246" stroke="#62b98e" stroke-width="2.1" fill="none"/><path d="M500.0,214.0Q495.4,212.2 491.6,216.9M500.0,214.0Q496.2,210.0 493.0,213.6M500.0,214.0Q496.8,208.0 494.2,210.8M500.0,214.0Q497.8,206.8 495.9,208.7M500.0,214.0Q499.5,206.4 499.1,207.2M500.0,214.0Q501.2,207.4 502.1,208.5M500.0,214.0Q503.6,207.0 506.6,210.3M500.0,214.0Q503.9,209.5 507.1,213.2M500.0,214.0Q505.9,211.6 510.7,217.6" stroke="#62b98e" stroke-width="2.6" fill="none" stroke-linecap="round"/></g>
<g opacity="0.7"><path d="M526.0,216.0L525.6,246" stroke="#62b98e" stroke-width="2.1" fill="none"/><path d="M526.0,216.0Q520.6,214.0 516.3,219.5M526.0,216.0Q521.5,212.2 517.8,216.6M526.0,216.0Q522.9,211.2 520.4,213.9M526.0,216.0Q525.0,209.8 524.1,210.8M526.0,216.0Q526.1,209.1 526.3,209.7M526.0,216.0Q527.6,209.3 528.8,210.7M526.0,216.0Q529.1,209.5 531.6,212.2M526.0,216.0Q529.5,211.9 532.4,215.3M526.0,216.0Q530.2,213.5 533.6,217.8" stroke="#62b98e" stroke-width="2.6" fill="none" stroke-linecap="round"/></g>
<g opacity="0.7"><path d="M545.0,220.0L545.0,246" stroke="#62b98e" stroke-width="2.1" fill="none"/><path d="M545.0,220.0Q540.5,218.1 536.9,222.6M545.0,220.0Q540.3,216.0 536.4,220.6M545.0,220.0Q541.6,214.8 538.9,217.9M545.0,220.0Q543.9,214.1 543.1,215.1M545.0,220.0Q545.1,212.7 545.1,213.4M545.0,220.0Q546.1,213.4 547.1,214.5M545.0,220.0Q548.1,214.6 550.7,217.4M545.0,220.0Q548.7,216.6 551.8,220.3M545.0,220.0Q549.0,217.9 552.3,222.0" stroke="#62b98e" stroke-width="2.6" fill="none" stroke-linecap="round"/></g>
<g opacity="0.7"><path d="M562.0,222.0L562.7,246" stroke="#62b98e" stroke-width="2.1" fill="none"/><path d="M562.0,222.0Q557.5,219.9 553.8,224.5M562.0,222.0Q558.3,218.3 555.3,221.8M562.0,222.0Q558.9,215.5 556.4,218.2M562.0,222.0Q560.7,216.0 559.6,217.2M562.0,222.0Q562.0,215.4 562.0,215.9M562.0,222.0Q563.6,214.3 564.9,215.7M562.0,222.0Q564.9,217.6 567.3,220.2M562.0,222.0Q566.4,218.3 570.0,222.5M562.0,222.0Q566.3,219.9 569.8,224.3" stroke="#62b98e" stroke-width="2.6" fill="none" stroke-linecap="round"/></g>
</g>
<g fill="#7fc9a8" opacity="0.5" filter="url(#bl1)"><polygon points="421.0,245.0 421.0,216.0 432.0,212.0 444.0,215.0 456.0,213.0 468.0,217.0 480.0,214.0 492.0,216.0 504.0,215.0 516.0,218.0 528.0,220.0 542.0,222.0 558.0,224.0 575.0,224.0 575.0,245.0"/><circle cx="421.5" cy="217.0" r="4.9"/><circle cx="424.9" cy="215.6" r="4.2"/><circle cx="428.5" cy="214.0" r="3.0"/><circle cx="434.4" cy="213.3" r="2.9"/><circle cx="437.5" cy="214.3" r="3.6"/><circle cx="441.1" cy="215.2" r="3.7"/><circle cx="444.5" cy="216.1" r="4.6"/><circle cx="448.2" cy="215.0" r="3.0"/><circle cx="452.0" cy="214.4" r="3.1"/><circle cx="457.0" cy="214.5" r="4.7"/><circle cx="460.9" cy="215.3" r="2.7"/><circle cx="464.6" cy="217.1" r="5.0"/><circle cx="468.2" cy="218.0" r="4.0"/><circle cx="472.9" cy="216.8" r="4.1"/><circle cx="476.8" cy="215.8" r="4.2"/><circle cx="481.2" cy="215.2" r="4.1"/><circle cx="486.2" cy="216.0" r="3.9"/><circle cx="488.3" cy="216.0" r="2.6"/><circle cx="494.3" cy="216.7" r="3.7"/><circle cx="496.5" cy="216.8" r="4.9"/><circle cx="501.4" cy="216.3" r="4.3"/><circle cx="506.1" cy="216.3" r="3.1"/><circle cx="508.9" cy="217.4" r="4.7"/><circle cx="512.3" cy="218.2" r="4.4"/><circle cx="516.2" cy="219.1" r="4.2"/><circle cx="521.7" cy="220.2" r="4.9"/><circle cx="526.0" cy="220.6" r="3.7"/><circle cx="528.6" cy="220.8" r="2.8"/><circle cx="534.1" cy="221.8" r="3.7"/><circle cx="537.5" cy="222.5" r="4.7"/><circle cx="543.2" cy="223.2" r="4.2"/><circle cx="546.5" cy="223.3" r="3.0"/><circle cx="550.0" cy="223.8" r="3.3"/><circle cx="554.6" cy="224.5" r="3.5"/><circle cx="559.0" cy="225.1" r="4.6"/><circle cx="564.5" cy="224.7" r="2.9"/><circle cx="567.5" cy="224.7" r="2.8"/><circle cx="572.4" cy="225.2" r="4.9"/></g>
<rect x="415" y="190" width="166" height="54" fill="url(#hazeM)"/>
<g filter="url(#bl2)" opacity="0.8" fill="#ffffff"><circle cx="530" cy="207" r="6"/><circle cx="538" cy="212" r="5"/><circle cx="524" cy="212" r="4"/></g>
<g fill="#3a9f52" opacity="0.72" filter="url(#bl1)"><polygon points="421.0,245.0 421.0,229.0 432.0,225.0 445.0,229.0 460.0,231.0 476.0,224.0 490.0,222.0 505.0,226.0 520.0,231.0 540.0,233.0 560.0,235.0 575.0,233.0 575.0,245.0"/><circle cx="422.0" cy="229.5" r="3.4"/><circle cx="425.0" cy="228.7" r="4.7"/><circle cx="428.3" cy="227.3" r="3.7"/><circle cx="434.3" cy="226.4" r="2.6"/><circle cx="437.8" cy="227.8" r="4.0"/><circle cx="440.8" cy="228.5" r="3.4"/><circle cx="446.6" cy="230.1" r="3.6"/><circle cx="450.4" cy="230.4" r="2.8"/><circle cx="453.0" cy="230.7" r="2.7"/><circle cx="457.4" cy="231.9" r="4.8"/><circle cx="461.4" cy="231.5" r="4.4"/><circle cx="464.9" cy="229.9" r="4.3"/><circle cx="468.2" cy="228.2" r="3.2"/><circle cx="473.6" cy="226.1" r="4.3"/><circle cx="477.2" cy="224.5" r="2.6"/><circle cx="481.4" cy="224.0" r="2.9"/><circle cx="486.1" cy="223.7" r="4.5"/><circle cx="490.4" cy="223.3" r="4.7"/><circle cx="495.7" cy="224.2" r="2.5"/><circle cx="498.4" cy="225.1" r="3.7"/><circle cx="501.3" cy="225.9" r="3.5"/><circle cx="507.0" cy="227.4" r="2.7"/><circle cx="510.1" cy="228.4" r="2.7"/><circle cx="513.8" cy="230.1" r="4.7"/><circle cx="516.7" cy="230.5" r="2.4"/><circle cx="520.2" cy="232.0" r="3.8"/><circle cx="524.0" cy="232.1" r="2.6"/><circle cx="529.2" cy="233.1" r="4.8"/><circle cx="533.0" cy="233.2" r="3.4"/><circle cx="537.5" cy="233.4" r="2.6"/><circle cx="541.4" cy="233.9" r="2.8"/><circle cx="545.5" cy="234.8" r="4.9"/><circle cx="548.1" cy="234.8" r="3.8"/><circle cx="553.5" cy="235.0" r="2.8"/><circle cx="556.6" cy="235.9" r="5.0"/><circle cx="562.2" cy="235.4" r="2.7"/><circle cx="565.3" cy="235.5" r="4.9"/><circle cx="568.0" cy="234.9" r="4.0"/><circle cx="571.3" cy="234.3" r="3.4"/></g>
<path d="M421.0,243.6L420.5,238.2L422.0,243.6ZM423.2,243.6L424.0,240.5L424.2,243.6ZM424.6,243.6L426.1,238.4L425.7,243.6ZM426.0,243.6L427.1,239.3L427.5,243.6ZM428.1,243.6L429.3,239.0L429.0,243.6ZM429.8,243.6L431.0,240.2L430.8,243.6ZM431.5,243.6L433.2,238.3L433.0,243.6ZM433.2,243.6L433.4,239.0L434.5,243.6ZM435.3,243.6L437.0,240.2L436.8,243.6ZM437.1,243.6L438.2,240.7L438.6,243.6ZM438.3,243.6L438.0,241.0L439.6,243.6ZM440.5,243.6L440.9,239.6L441.7,243.6ZM442.2,243.6L442.6,238.4L443.4,243.6ZM443.9,243.6L444.7,240.2L445.3,243.6ZM445.5,243.6L445.3,239.1L446.7,243.6ZM447.7,243.6L448.1,240.0L448.9,243.6ZM449.8,243.6L450.2,238.2L451.0,243.6ZM450.9,243.6L451.5,238.4L451.9,243.6ZM452.3,243.6L452.3,240.1L453.5,243.6ZM453.4,243.6L454.4,239.5L454.8,243.6ZM454.6,243.6L454.9,239.0L455.5,243.6ZM456.6,243.6L457.9,238.3L457.8,243.6ZM458.2,243.6L459.8,239.5L459.5,243.6ZM460.1,243.6L461.1,239.7L461.5,243.6ZM461.5,243.6L462.5,238.7L463.0,243.6ZM463.6,243.6L464.5,241.0L464.9,243.6ZM465.0,243.6L465.6,240.6L466.4,243.6ZM466.4,243.6L466.9,241.0L467.9,243.6ZM467.5,243.6L468.8,240.5L468.6,243.6ZM468.7,243.6L469.2,240.3L469.7,243.6ZM470.0,243.6L471.5,240.1L471.4,243.6ZM472.0,243.6L473.3,241.0L473.1,243.6ZM473.0,243.6L473.4,240.5L474.3,243.6ZM474.9,243.6L475.0,238.9L476.1,243.6ZM476.2,243.6L477.0,240.3L477.1,243.6ZM477.4,243.6L477.2,238.4L478.7,243.6ZM479.0,243.6L479.4,239.3L479.9,243.6ZM480.0,243.6L480.7,238.8L480.9,243.6ZM482.2,243.6L482.8,238.6L483.3,243.6ZM483.4,243.6L484.8,240.1L484.9,243.6ZM484.4,243.6L484.4,240.0L485.7,243.6ZM486.3,243.6L486.7,238.4L487.6,243.6ZM488.4,243.6L488.4,239.6L489.4,243.6ZM489.6,243.6L490.6,238.6L490.8,243.6ZM491.5,243.6L491.9,238.2L492.6,243.6ZM493.6,243.6L494.5,238.8L494.8,243.6ZM494.8,243.6L495.0,240.6L495.8,243.6ZM496.1,243.6L496.2,239.5L497.7,243.6ZM497.8,243.6L498.5,238.5L499.1,243.6ZM499.7,243.6L500.8,241.0L501.3,243.6ZM501.7,243.6L501.3,238.6L502.6,243.6ZM502.9,243.6L504.5,239.6L504.4,243.6ZM504.4,243.6L504.7,239.2L505.8,243.6ZM506.5,243.6L508.0,238.3L507.9,243.6ZM508.5,243.6L508.6,239.1L509.6,243.6ZM509.8,243.6L510.1,240.9L511.3,243.6ZM510.8,243.6L511.2,240.2L511.8,243.6ZM512.2,243.6L512.7,240.6L513.4,243.6ZM513.6,243.6L514.3,238.7L514.7,243.6ZM515.7,243.6L515.3,238.2L516.8,243.6ZM517.8,243.6L517.6,239.6L518.9,243.6ZM519.1,243.6L518.7,240.2L520.1,243.6ZM521.3,243.6L521.8,238.6L522.3,243.6ZM523.3,243.6L523.4,239.6L524.2,243.6ZM524.7,243.6L525.3,238.4L526.0,243.6ZM526.5,243.6L527.8,241.0L527.9,243.6ZM528.3,243.6L527.9,240.0L529.4,243.6ZM529.4,243.6L530.5,240.6L530.6,243.6ZM530.6,243.6L531.6,239.7L532.0,243.6ZM531.7,243.6L531.9,238.3L533.0,243.6ZM533.0,243.6L533.4,239.0L534.5,243.6ZM534.4,243.6L534.8,239.4L535.5,243.6ZM536.5,243.6L536.8,239.4L538.0,243.6ZM538.6,243.6L539.2,238.8L539.6,243.6ZM540.4,243.6L540.5,239.4L541.7,243.6ZM542.1,243.6L542.5,240.0L543.5,243.6ZM544.2,243.6L544.6,239.4L545.3,243.6ZM545.4,243.6L546.1,238.9L546.3,243.6ZM546.8,243.6L547.6,238.8L547.7,243.6ZM548.6,243.6L548.9,240.4L549.6,243.6ZM550.4,243.6L550.7,240.3L551.3,243.6ZM552.4,243.6L553.2,240.6L553.9,243.6ZM553.6,243.6L554.1,240.8L554.7,243.6ZM554.8,243.6L554.9,240.8L556.0,243.6ZM556.3,243.6L557.1,239.7L557.7,243.6ZM557.6,243.6L557.4,240.6L559.1,243.6ZM558.7,243.6L559.5,240.9L560.2,243.6ZM560.8,243.6L561.3,239.2L562.0,243.6ZM562.7,243.6L563.3,240.4L564.2,243.6ZM563.8,243.6L563.7,240.1L565.1,243.6ZM565.8,243.6L567.3,238.3L567.1,243.6ZM567.7,243.6L569.1,239.5L568.7,243.6ZM569.8,243.6L569.5,239.7L570.9,243.6ZM571.5,243.6L571.7,238.5L572.7,243.6ZM573.3,243.6L573.3,238.7L574.3,243.6Z" fill="#62b84c" opacity="0.6"/>
<g filter="url(#bl2)" opacity="0.8" fill="#f4f8fc"><circle cx="790" cy="196" r="12"/><circle cx="800" cy="184" r="12"/><circle cx="812" cy="174" r="11"/><circle cx="824" cy="166" r="10"/><circle cx="834" cy="162" r="9"/><circle cx="846" cy="170" r="11"/><circle cx="858" cy="176" r="10"/><circle cx="870" cy="180" r="11"/><circle cx="884" cy="178" r="10"/><circle cx="898" cy="176" r="11"/><circle cx="912" cy="180" r="10"/><circle cx="926" cy="186" r="10"/><circle cx="940" cy="192" r="9"/><circle cx="956" cy="192" r="9"/><circle cx="972" cy="186" r="10"/><circle cx="988" cy="182" r="11"/><circle cx="1002" cy="178" r="11"/><circle cx="1012" cy="184" r="12"/><circle cx="810" cy="198" r="14"/><circle cx="840" cy="196" r="14"/><circle cx="870" cy="200" r="12"/><circle cx="900" cy="198" r="12"/><circle cx="930" cy="204" r="10"/><circle cx="960" cy="206" r="10"/><circle cx="995" cy="202" r="12"/></g>
<g fill="#a9d6dd" opacity="0.6" filter="url(#bl1)">
<polygon points="956.0,182.0 957.8,185.2 957.1,186.6 961.3,194.3 958.9,195.7 964.1,203.5 960.4,204.9 965.3,212.6 961.8,214.0 968.7,221.8 963.1,223.1 971.2,230.9 964.4,232.3 973.7,240.1 965.6,241.4 977.8,249.2 972.2,246.0 939.8,246.0 935.5,249.2 946.4,241.4 939.7,240.1 947.6,232.3 941.3,230.9 948.9,223.1 945.5,221.8 950.2,214.0 944.5,212.6 951.6,204.9 947.1,203.5 953.1,195.7 951.5,194.3 954.9,186.6 954.4,185.2"/>
<polygon points="940.0,196.0 941.6,198.5 940.9,199.6 943.9,205.6 942.4,206.7 946.1,212.8 943.7,213.9 949.3,219.9 944.8,221.0 949.8,227.1 945.9,228.1 950.6,234.2 947.0,235.3 952.1,241.4 948.0,242.4 956.3,248.5 953.5,246.0 926.5,246.0 924.5,248.5 932.0,242.4 927.1,241.4 933.0,235.3 929.2,234.2 934.1,228.1 928.4,227.1 935.2,221.0 932.6,219.9 936.3,213.9 934.3,212.8 937.6,206.7 935.2,205.6 939.1,199.6 938.5,198.5"/>
<polygon points="972.0,198.0 973.3,200.4 972.8,201.4 975.4,207.3 974.3,208.3 977.6,214.1 975.4,215.1 978.9,221.0 976.5,222.0 981.2,227.8 977.5,228.9 983.7,234.7 978.5,235.7 985.9,241.5 979.5,242.6 987.2,248.4 984.6,246.0 959.4,246.0 955.9,248.4 964.5,242.6 957.0,241.5 965.5,235.7 959.5,234.7 966.5,228.9 962.5,227.8 967.5,222.0 964.4,221.0 968.6,215.1 966.5,214.1 969.7,208.3 967.7,207.3 971.2,201.4 970.6,200.4"/>
<polygon points="848.0,206.0 849.4,208.0 848.7,208.9 852.0,213.7 850.0,214.6 853.6,219.4 851.0,220.3 855.6,225.1 851.9,226.0 855.3,230.9 852.7,231.7 856.8,236.6 853.6,237.4 860.0,242.3 854.4,243.1 858.8,248.0 858.8,246.0 837.2,246.0 836.2,248.0 841.6,243.1 837.6,242.3 842.4,237.4 839.6,236.6 843.3,231.7 839.9,230.9 844.1,226.0 841.7,225.1 845.0,220.3 842.4,219.4 846.0,214.6 844.4,213.7 847.3,208.9 846.8,208.0"/>
<polygon points="866.0,204.0 867.2,206.1 866.7,207.0 868.7,212.1 867.8,213.0 870.6,218.1 868.7,219.0 873.2,224.1 869.6,225.0 873.0,230.1 870.4,231.0 874.6,236.1 871.1,237.0 874.7,242.1 871.9,243.0 879.0,248.1 875.9,246.0 856.1,246.0 854.0,248.1 860.1,243.0 856.2,242.1 860.9,237.0 857.2,236.1 861.6,231.0 858.0,230.1 862.4,225.0 859.0,224.1 863.3,219.0 861.8,218.1 864.2,213.0 863.3,212.1 865.3,207.0 864.7,206.1"/>
</g>
<g fill="#52b87c" opacity="0.9">
<polygon points="805.0,195.8 807.4,198.3 806.6,199.4 811.7,205.5 809.2,206.6 816.1,212.7 811.4,213.7 821.3,219.8 813.4,220.9 822.0,227.0 815.3,228.1 826.1,234.2 817.1,235.2 829.0,241.3 818.9,242.4 836.6,248.5 828.4,246.0 781.6,246.0 774.9,248.5 791.1,242.4 781.0,241.3 792.9,235.2 780.6,234.2 794.7,228.1 789.2,227.0 796.6,220.9 788.0,219.8 798.6,213.7 792.9,212.7 800.8,206.6 797.4,205.5 803.4,199.4 802.0,198.3"/>
</g>
<g fill="url(#bushR)" opacity="0.92"><polygon points="781.0,245.0 781.0,236.0 790.0,231.0 800.0,229.0 815.0,231.0 826.0,235.0 836.0,232.0 846.0,230.0 856.0,232.0 864.0,230.0 872.0,224.0 882.0,218.0 892.0,214.0 904.0,212.0 916.0,215.0 928.0,220.0 940.0,216.0 952.0,212.0 964.0,210.0 976.0,213.0 988.0,218.0 1000.0,215.0 1012.0,213.0 1012.0,245.0"/><circle cx="782.3" cy="236.4" r="4.6"/><circle cx="787.3" cy="233.3" r="3.1"/><circle cx="790.0" cy="231.9" r="3.8"/><circle cx="795.8" cy="231.1" r="5.1"/><circle cx="802.1" cy="230.4" r="4.5"/><circle cx="806.7" cy="231.0" r="4.6"/><circle cx="810.4" cy="231.4" r="4.0"/><circle cx="815.5" cy="232.5" r="5.3"/><circle cx="820.7" cy="234.3" r="5.1"/><circle cx="826.2" cy="236.1" r="4.7"/><circle cx="832.0" cy="234.2" r="3.9"/><circle cx="838.5" cy="232.2" r="2.8"/><circle cx="841.2" cy="232.3" r="5.4"/><circle cx="847.5" cy="231.0" r="3.0"/><circle cx="854.0" cy="233.0" r="5.5"/><circle cx="856.3" cy="232.9" r="3.9"/><circle cx="860.3" cy="231.8" r="3.6"/><circle cx="865.5" cy="229.7" r="3.2"/><circle cx="869.7" cy="226.5" r="2.9"/><circle cx="872.5" cy="225.0" r="5.1"/><circle cx="878.2" cy="221.3" r="3.9"/><circle cx="883.8" cy="218.3" r="4.1"/><circle cx="888.2" cy="216.2" r="2.8"/><circle cx="893.7" cy="215.1" r="5.5"/><circle cx="898.3" cy="214.1" r="4.6"/><circle cx="900.9" cy="213.5" r="3.8"/><circle cx="905.7" cy="213.6" r="4.7"/><circle cx="908.3" cy="213.9" r="3.4"/><circle cx="912.9" cy="215.3" r="4.2"/><circle cx="917.9" cy="216.9" r="4.2"/><circle cx="920.1" cy="218.0" r="5.1"/><circle cx="925.0" cy="219.8" r="4.2"/><circle cx="928.5" cy="220.8" r="3.9"/><circle cx="932.9" cy="219.6" r="5.0"/><circle cx="936.2" cy="218.3" r="4.3"/><circle cx="940.4" cy="217.0" r="4.7"/><circle cx="944.1" cy="215.5" r="3.5"/><circle cx="948.8" cy="214.2" r="4.6"/><circle cx="952.1" cy="213.0" r="4.0"/><circle cx="956.5" cy="212.1" r="3.5"/><circle cx="961.1" cy="211.9" r="5.5"/><circle cx="965.2" cy="211.7" r="5.5"/><circle cx="968.4" cy="212.5" r="5.4"/><circle cx="972.9" cy="213.0" r="3.3"/><circle cx="977.8" cy="215.1" r="5.4"/><circle cx="980.0" cy="215.5" r="3.5"/><circle cx="985.8" cy="218.0" r="3.7"/><circle cx="988.6" cy="218.5" r="2.7"/><circle cx="992.1" cy="218.1" r="4.5"/><circle cx="998.4" cy="216.8" r="5.6"/><circle cx="1001.2" cy="215.5" r="2.8"/><circle cx="1004.8" cy="215.5" r="5.0"/><circle cx="1010.0" cy="214.5" r="4.6"/></g>
<path d="M781.0,243.6L782.6,238.3L782.6,243.6ZM782.1,243.6L782.8,239.3L783.3,243.6ZM783.3,243.6L783.3,240.5L784.5,243.6ZM784.8,243.6L785.7,241.0L785.8,243.6ZM786.3,243.6L786.7,239.6L787.7,243.6ZM787.4,243.6L788.3,238.8L788.7,243.6ZM789.1,243.6L790.2,238.2L790.3,243.6ZM790.6,243.6L790.9,239.4L791.9,243.6ZM791.7,243.6L792.6,239.7L793.1,243.6ZM793.2,243.6L793.1,239.2L794.2,243.6ZM794.6,243.6L794.3,238.7L795.6,243.6ZM795.7,243.6L796.4,241.0L796.8,243.6ZM797.7,243.6L797.9,240.1L798.9,243.6ZM799.1,243.6L799.2,238.8L800.3,243.6ZM800.2,243.6L801.5,238.7L801.6,243.6ZM801.5,243.6L802.4,239.5L803.0,243.6ZM803.6,243.6L803.5,240.6L805.2,243.6ZM805.1,243.6L806.2,241.0L806.6,243.6ZM807.3,243.6L808.1,238.7L808.8,243.6ZM809.5,243.6L811.0,238.9L810.6,243.6ZM810.9,243.6L811.3,240.5L811.9,243.6ZM812.2,243.6L812.4,238.3L813.7,243.6ZM813.3,243.6L813.9,239.5L814.3,243.6ZM815.3,243.6L816.7,240.3L816.4,243.6ZM816.8,243.6L818.2,240.1L818.3,243.6ZM818.9,243.6L819.8,239.0L820.0,243.6ZM820.9,243.6L821.0,239.2L821.9,243.6ZM822.3,243.6L823.1,238.8L823.6,243.6ZM824.3,243.6L824.7,240.8L825.7,243.6ZM826.0,243.6L827.5,238.6L827.1,243.6ZM827.1,243.6L827.2,239.4L828.4,243.6ZM828.8,243.6L829.8,239.7L830.0,243.6ZM829.8,243.6L829.8,240.0L831.2,243.6ZM831.8,243.6L831.9,240.5L833.2,243.6ZM833.4,243.6L834.2,239.8L834.3,243.6ZM834.9,243.6L835.7,239.0L836.2,243.6ZM836.6,243.6L836.5,240.2L838.1,243.6ZM838.6,243.6L839.8,238.5L839.9,243.6ZM840.4,243.6L840.6,239.3L841.5,243.6ZM841.8,243.6L842.3,240.2L843.4,243.6ZM843.3,243.6L844.0,239.8L844.8,243.6ZM845.0,243.6L844.7,240.3L846.1,243.6ZM846.2,243.6L847.0,240.3L847.7,243.6ZM847.4,243.6L848.0,239.7L848.4,243.6ZM848.9,243.6L850.1,238.5L850.0,243.6ZM850.2,243.6L850.0,238.2L851.5,243.6ZM852.2,243.6L852.0,240.3L853.3,243.6ZM854.2,243.6L854.7,240.8L855.6,243.6ZM856.0,243.6L857.3,240.2L856.9,243.6ZM857.8,243.6L859.4,240.6L859.4,243.6ZM859.0,243.6L858.9,241.0L860.3,243.6ZM860.9,243.6L861.7,239.7L862.3,243.6ZM862.8,243.6L863.6,238.6L864.1,243.6ZM864.2,243.6L865.4,240.7L865.2,243.6ZM865.4,243.6L866.2,239.8L866.6,243.6ZM867.1,243.6L867.4,238.5L868.3,243.6ZM868.9,243.6L869.3,238.9L870.4,243.6ZM870.9,243.6L871.0,238.2L872.5,243.6ZM872.4,243.6L872.2,238.8L873.9,243.6ZM873.9,243.6L874.6,238.9L875.3,243.6ZM875.1,243.6L875.2,239.9L876.0,243.6ZM876.6,243.6L877.1,238.6L877.9,243.6ZM877.9,243.6L878.5,240.2L879.3,243.6ZM879.1,243.6L880.7,238.6L880.4,243.6ZM880.8,243.6L881.6,239.2L882.0,243.6ZM882.9,243.6L883.4,238.2L884.2,243.6ZM883.9,243.6L884.3,238.6L885.1,243.6ZM885.0,243.6L886.5,241.0L886.2,243.6ZM886.9,243.6L887.1,239.0L888.3,243.6ZM888.1,243.6L888.7,239.3L889.0,243.6ZM889.7,243.6L889.3,239.5L890.7,243.6ZM891.3,243.6L891.6,240.7L892.6,243.6ZM893.0,243.6L893.8,238.8L894.4,243.6ZM894.3,243.6L894.6,240.1L895.9,243.6ZM895.6,243.6L896.8,239.6L896.9,243.6ZM897.0,243.6L898.0,238.2L897.9,243.6ZM898.6,243.6L899.5,238.4L899.7,243.6ZM900.8,243.6L902.1,239.1L901.8,243.6ZM902.9,243.6L902.8,240.8L904.4,243.6ZM904.0,243.6L905.7,238.7L905.4,243.6ZM905.8,243.6L906.5,239.6L906.9,243.6ZM908.0,243.6L908.1,239.2L909.5,243.6ZM909.9,243.6L911.0,238.9L910.8,243.6ZM911.1,243.6L911.9,240.4L912.0,243.6ZM912.3,243.6L913.3,238.2L913.2,243.6ZM914.2,243.6L915.4,239.4L915.5,243.6ZM915.9,243.6L916.4,240.7L917.4,243.6ZM917.6,243.6L918.2,239.6L919.2,243.6ZM919.7,243.6L920.6,240.9L920.8,243.6ZM921.4,243.6L922.5,238.6L922.4,243.6ZM923.3,243.6L924.0,240.7L924.3,243.6ZM925.5,243.6L926.1,239.3L926.7,243.6ZM927.5,243.6L928.3,239.5L928.8,243.6ZM929.6,243.6L929.9,238.7L931.1,243.6ZM931.3,243.6L932.9,238.6L932.7,243.6ZM933.4,243.6L933.8,240.7L934.7,243.6ZM934.7,243.6L936.0,239.6L936.3,243.6ZM935.8,243.6L937.1,240.4L936.9,243.6ZM937.3,243.6L937.5,240.6L938.6,243.6ZM938.4,243.6L939.7,239.3L940.0,243.6ZM940.3,243.6L941.2,240.6L941.6,243.6ZM942.2,243.6L943.5,239.8L943.1,243.6ZM943.5,243.6L944.7,238.9L944.7,243.6ZM944.9,243.6L945.5,240.8L946.1,243.6ZM946.9,243.6L947.3,239.9L948.2,243.6ZM948.7,243.6L950.4,240.6L950.3,243.6ZM949.8,243.6L950.9,238.5L951.2,243.6ZM950.9,243.6L951.9,238.9L952.3,243.6ZM953.0,243.6L954.6,238.3L954.4,243.6ZM954.2,243.6L954.9,240.2L955.5,243.6ZM956.4,243.6L957.3,239.2L957.7,243.6ZM958.5,243.6L959.4,239.9L959.9,243.6ZM960.0,243.6L959.5,240.1L961.0,243.6ZM961.4,243.6L961.8,240.2L962.3,243.6ZM962.8,243.6L963.9,238.3L964.3,243.6ZM964.8,243.6L965.5,240.3L965.8,243.6ZM966.1,243.6L967.5,238.1L967.3,243.6ZM967.4,243.6L968.4,240.8L968.7,243.6ZM968.7,243.6L969.9,238.3L970.3,243.6ZM970.9,243.6L971.8,238.2L971.9,243.6ZM972.8,243.6L973.4,238.9L973.9,243.6ZM974.5,243.6L974.7,238.6L975.4,243.6ZM975.9,243.6L975.5,238.7L976.8,243.6ZM977.0,243.6L978.3,240.8L978.2,243.6ZM978.4,243.6L978.8,240.8L979.8,243.6ZM980.1,243.6L981.2,238.9L981.3,243.6ZM981.8,243.6L983.4,238.5L983.3,243.6ZM983.7,243.6L984.9,240.3L985.0,243.6ZM985.7,243.6L987.1,238.9L987.2,243.6ZM987.3,243.6L987.8,239.2L988.3,243.6ZM989.2,243.6L989.8,238.4L990.7,243.6ZM990.5,243.6L990.5,238.4L991.8,243.6ZM991.5,243.6L991.4,238.5L992.8,243.6ZM993.7,243.6L995.0,239.3L995.1,243.6ZM995.0,243.6L995.8,239.5L996.0,243.6ZM996.5,243.6L996.4,238.7L997.5,243.6ZM998.0,243.6L999.5,241.1L999.2,243.6ZM1000.0,243.6L1000.2,240.6L1001.5,243.6ZM1001.3,243.6L1001.3,239.2L1002.4,243.6ZM1002.4,243.6L1003.8,240.6L1003.5,243.6ZM1003.5,243.6L1004.5,239.5L1004.5,243.6ZM1004.5,243.6L1004.3,240.0L1005.9,243.6ZM1006.0,243.6L1006.9,240.1L1007.2,243.6ZM1007.1,243.6L1008.2,238.5L1008.2,243.6ZM1008.2,243.6L1007.9,240.8L1009.3,243.6ZM1009.5,243.6L1010.7,240.7L1010.5,243.6ZM1011.2,243.6L1012.4,239.6L1012.4,243.6Z" fill="#4fb060" opacity="0.5"/>
<rect x="28" y="250" width="984" height="290" fill="url(#gndBase)"/>
<rect x="28" y="250" width="984" height="290" fill="url(#gndLight)"/>
<rect x="28" y="250" width="984" height="290" filter="url(#asph)" opacity="0.3"/>
<rect x="28" y="250" width="984" height="290" filter="url(#asphD)" opacity="0.35"/>
<rect x="28" y="243.4" width="984" height="7.2" fill="#5b5a5c"/>
<path d="M0,-1.5L15.7,-3.0L15.7,-7.2L26.7,0L15.7,7.2L15.7,3.0L0,1.5Z" fill="url(#atmA)" transform="translate(420.0,74.6) rotate(146.3)"/>
<path d="M0,-1.5L16.5,-3.0L16.5,-7.2L27.5,0L16.5,7.2L16.5,3.0L0,1.5Z" fill="url(#atmA)" transform="translate(453.8,79.0) rotate(125.5)"/>
<path d="M0,-1.5L17.3,-3.0L17.3,-7.2L28.3,0L17.3,7.2L17.3,3.0L0,1.5Z" fill="url(#atmA)" transform="translate(486.0,81.7) rotate(108.6)"/>
<path d="M0,-1.5L18.2,-3.0L18.2,-7.2L29.2,0L18.2,7.2L18.2,3.0L0,1.5Z" fill="url(#atmA)" transform="translate(519.4,83.8) rotate(90.0)"/>
<path d="M0,-1.5L18.4,-3.0L18.4,-7.2L29.4,0L18.4,7.2L18.4,3.0L0,1.5Z" fill="url(#atmA)" transform="translate(553.0,80.8) rotate(70.1)"/>
<path d="M0,-1.5L15.8,-3.0L15.8,-7.2L26.8,0L15.8,7.2L15.8,3.0L0,1.5Z" fill="url(#atmA)" transform="translate(586.8,79.0) rotate(56.7)"/>
<path d="M0,-1.5L16.4,-3.0L16.4,-7.2L27.4,0L16.4,7.2L16.4,3.0L0,1.5Z" fill="url(#atmA)" transform="translate(618.5,74.6) rotate(32.8)"/>
<text x="400.8" y="66.3" font-size="24" fill="#2478c6" text-anchor="start" textLength="237.5" lengthAdjust="spacingAndGlyphs" stroke="none">Atmospheric radiation</text>
<text x="891.4" y="61.7" font-size="24" fill="#e6d03a" text-anchor="start" textLength="90.0" lengthAdjust="spacingAndGlyphs" stroke="none">Sunlight</text>
<polygon points="214.2,178.0 220.6,178.0 221.2,444.0 215.4,442.0" fill="#858585"/><polygon points="220.4,178.0 421.2,186.2 420.4,416.0 221.0,444.2" fill="url(#pnl)"/>
<polygon points="574.2,174.5 580.7,175.0 581.2,440.2 575.5,437.6" fill="#858585"/><polygon points="580.5,175.0 781.0,184.6 780.4,413.0 581.0,440.4" fill="url(#pnl)"/>
<polygon points="883.4,363.0 887.6,363.3 887.9,512.7 884.3,511.5" fill="#858585"/><polygon points="887.4,363.3 999.8,368.0 998.6,498.5 887.7,512.8" fill="url(#pnl)"/>
<path d="M381.5,181.0C381.4,181.7 382.3,181.9 380.8,185.0C379.3,188.1 375.8,194.1 372.3,199.6C368.8,205.1 364.1,212.4 360.0,218.1C355.9,223.8 352.3,228.1 347.7,233.5C343.1,238.9 337.4,245.0 332.3,250.4C327.2,255.8 322.3,260.4 316.9,265.8C311.5,271.2 305.1,277.6 300.0,282.7C294.9,287.8 288.3,294.2 286.0,296.5L329.0,295.0C332.1,292.2 342.0,283.5 347.7,278.1C353.4,272.7 358.0,268.1 363.1,262.7C368.2,257.3 373.9,251.2 378.5,245.8C383.1,240.4 387.0,235.5 390.8,230.4C394.6,225.3 398.2,220.1 401.5,215.0C404.8,209.9 408.4,204.1 410.8,199.6C413.2,195.1 415.2,190.7 416.2,188.1C417.2,185.5 416.7,184.7 416.8,184.0Z" fill="url(#redUp1)"/><polygon points="406.9,165.2 369.8,183.2 428.2,188.2" fill="#ca5537"/>
<path d="M742.1,181.0C742.0,181.7 742.9,181.9 741.4,185.0C739.9,188.1 736.4,194.1 732.9,199.6C729.4,205.1 724.7,212.4 720.6,218.1C716.5,223.8 712.9,228.1 708.3,233.5C703.7,238.9 698.0,245.0 692.9,250.4C687.8,255.8 682.9,260.4 677.5,265.8C672.1,271.2 665.8,277.6 660.6,282.7C655.5,287.8 648.9,294.2 646.6,296.5L689.6,295.0C692.7,292.2 702.6,283.5 708.3,278.1C714.0,272.7 718.6,268.1 723.7,262.7C728.8,257.3 734.5,251.2 739.1,245.8C743.7,240.4 747.6,235.5 751.4,230.4C755.2,225.3 758.8,220.1 762.1,215.0C765.4,209.9 769.0,204.1 771.4,199.6C773.9,195.1 775.8,190.7 776.8,188.1C777.8,185.5 777.3,184.7 777.4,184.0Z" fill="url(#redUp2)"/><polygon points="767.5,165.2 730.4000000000001,183.2 788.8,188.2" fill="#ca5537"/>
<path d="M290.0,319.0C290.9,320.1 291.9,321.3 295.4,325.4C298.9,329.5 305.7,337.6 310.8,343.8C315.9,350.0 321.1,355.9 326.2,362.3C331.3,368.7 336.4,375.6 341.5,382.3C346.6,389.0 352.3,395.9 356.9,402.3C361.5,408.7 365.6,415.4 369.2,420.8C372.8,426.2 376.4,431.7 378.5,434.6C380.6,437.6 380.9,437.3 381.5,438.5C382.1,439.7 381.9,441.4 382.0,442.0L418.0,438.0C417.8,437.2 418.1,436.0 416.9,433.1C415.7,430.2 413.6,425.7 410.8,420.8C408.0,415.9 403.9,409.5 400.0,403.8C396.1,398.1 392.3,392.8 387.7,386.9C383.1,381.0 377.4,374.6 372.3,368.5C367.2,362.4 362.0,355.9 356.9,350.0C351.8,344.1 346.6,338.2 341.5,333.1C336.4,328.0 329.4,322.1 326.2,319.2C322.9,316.3 322.7,316.1 322.0,315.5Z" fill="url(#redDn1)"/>
<polygon points="406.9,458.6 369.8,439.2 428.3,433.6" fill="#bc3a23"/>
<path d="M260,348 L306,353.2 L296,360.5 L388,478 L357,500 L266,386.5 L256,393.5 Z" fill="url(#gr1)"/>
<path d="M669,348 L715,353.2 L705,360.5 L797,478 L766,500 L675,386.5 L665,393.5 Z" fill="url(#gr2)"/>
<path d="M694.5,416L746,403M732.5,387.5L707.5,433.5" stroke="#a9aaab" stroke-width="7" stroke-linecap="round" fill="none"/>
<text transform="translate(236.2,129.2) rotate(1.95)" font-size="24.2" fill="#f3f8fd" stroke="none" textLength="167.3" lengthAdjust="spacingAndGlyphs">Omnidirectional</text>
<text transform="translate(225.2,157.1) rotate(2.0)" font-size="24.2" fill="#f3f8fd" stroke="none" textLength="195.6" lengthAdjust="spacingAndGlyphs">broadband emitter</text>
<text transform="translate(628.3,153.8) rotate(2.0)" font-size="24.2" fill="#f3f8fd" stroke="none" textLength="114" lengthAdjust="spacingAndGlyphs">AS emitter</text>
<text transform="translate(227.3,312.9) rotate(-1.45)" font-size="24.2" fill="#de161c" stroke="none" textLength="191.3" lengthAdjust="spacingAndGlyphs">Thermal emission</text>
<text transform="translate(584.5,312.9) rotate(-1.45)" font-size="24.2" fill="#de161c" stroke="none" textLength="191.1" lengthAdjust="spacingAndGlyphs">Thermal emission</text>
<text x="121.5" y="277.5" font-size="24.2" fill="#c62224" text-anchor="middle" textLength="165.0" lengthAdjust="spacingAndGlyphs" stroke="none">Above-ambient</text>
<text x="121.5" y="306.7" font-size="24.2" fill="#c62224" text-anchor="middle" textLength="81.0" lengthAdjust="spacingAndGlyphs" stroke="none">heating</text>
<text x="871.7" y="269.0" font-size="24.2" fill="#1d6cbd" text-anchor="middle" textLength="139.4" lengthAdjust="spacingAndGlyphs" stroke="none">Sub-ambient</text>
<text x="871.6" y="298.5" font-size="24.2" fill="#1d6cbd" text-anchor="middle" textLength="78.8" lengthAdjust="spacingAndGlyphs" stroke="none">cooling</text>
<text x="282.8" y="529.7" font-size="24.2" fill="#f4b234" text-anchor="start" textLength="183.6" lengthAdjust="spacingAndGlyphs" stroke="none">Ground radiation</text>
<text x="689.9" y="529.7" font-size="24.2" fill="#f4b234" text-anchor="start" textLength="184.0" lengthAdjust="spacingAndGlyphs" stroke="none">Ground radiation</text>
<g>
<g filter="url(#bl3)" opacity="0.95"><rect x="148.6" y="177.5" width="14" height="50" rx="7" fill="#ec4418"/><circle cx="155.6" cy="233.2" r="15" fill="#ec4418"/></g>
<rect x="150.7" y="179.8" width="9.8" height="50" rx="4.9" fill="#ffffff" stroke="#4a2a22" stroke-width="0.8"/>
<circle cx="155.6" cy="233.1" r="11.6" fill="#ffffff" stroke="#4a2a22" stroke-width="0.8"/>
<rect x="151.5" y="215" width="8.2" height="12" fill="#ffffff"/>
<rect x="152.8" y="182.2" width="5.6" height="46" rx="2.8" fill="#d6392b"/>
<circle cx="155.6" cy="233.1" r="8.5" fill="#d6392b"/>
<path d="M158.5,227.2q2.6,1.4 3,4" stroke="#f6c8c0" stroke-width="1" fill="none" stroke-linecap="round"/>
</g>
<path d="M97.3,200.2 C104,205 107.5,211 101,217 C95,222 95.5,227 102,231.3" stroke="#d42a22" stroke-width="3" fill="none" stroke-linecap="round"/>
<path d="M107.39999999999999,200.2 C114.1,205 117.6,211 111.1,217 C105.1,222 105.6,227 112.1,231.3" stroke="#d42a22" stroke-width="3" fill="none" stroke-linecap="round"/>
<path d="M117.5,200.2 C124.2,205 127.7,211 121.2,217 C115.2,222 115.7,227 122.2,231.3" stroke="#d42a22" stroke-width="3" fill="none" stroke-linecap="round"/>
<g>
<g filter="url(#bl3)" opacity="0.9"><circle cx="847.4" cy="228.2" r="16" fill="#ffffff"/><rect x="840" y="172" width="14.6" height="50" rx="7" fill="#ffffff"/></g>
<rect x="842.4" y="175" width="9.9" height="50" rx="4.95" fill="#ffffff" stroke="#5a4a44" stroke-width="1"/>
<circle cx="847.4" cy="228.2" r="12.1" fill="#ffffff" stroke="#5a4a44" stroke-width="1"/>
<rect x="843.4" y="210" width="7.9" height="10" fill="#ffffff"/>
<rect x="844.9" y="211.8" width="5" height="14" rx="2" fill="#2a80c8"/>
<circle cx="847.4" cy="228.2" r="8.3" fill="#2a80c8"/>
<path d="M850,222.6q2.4,1.3 2.8,3.8" stroke="#cfe4f6" stroke-width="1" fill="none" stroke-linecap="round"/>
</g>
<path d="M890.8,209.6L890.8,193.9M890.8,202.1L886.5,199.1M890.8,202.1L895.1,199.1M890.8,198.1L887.4,195.7M890.8,198.1L894.2,195.7M890.8,209.6L904.4,201.8M897.3,205.8L897.7,200.7M897.3,205.8L902.0,208.0M900.8,203.8L901.1,199.7M900.8,203.8L904.6,205.6M890.8,209.6L904.4,217.4M897.3,213.3L902.0,211.2M897.3,213.3L897.7,218.5M900.8,215.3L904.6,213.6M900.8,215.3L901.1,219.5M890.8,209.6L890.8,225.3M890.8,217.1L895.1,220.1M890.8,217.1L886.5,220.1M890.8,221.1L894.2,223.5M890.8,221.1L887.4,223.5M890.8,209.6L877.2,217.4M884.3,213.3L883.9,218.5M884.3,213.3L879.6,211.2M880.8,215.3L880.5,219.5M880.8,215.3L877.0,213.6M890.8,209.6L877.2,201.8M884.3,205.8L879.6,208.0M884.3,205.8L883.9,200.7M880.8,203.8L877.0,205.6M880.8,203.8L880.5,199.7" stroke="#2a72c0" stroke-width="1.1" fill="none" stroke-linecap="round"/>
<ellipse cx="946.5" cy="436.8" rx="41.5" ry="43.6" fill="none" stroke="#1e1412" stroke-width="1.5"/>
<path d="M946.4,490.5L946.9,387M992,433.4L902,438.6M946.5,437L972,442.6" stroke="#1e1412" stroke-width="1.5" fill="none"/>
<polygon points="947,380.6 943.6,389.4 950.2,389.4" fill="#1e1412"/>
<polygon points="895.4,439 904.2,435.2 904.5,441.8" fill="#1e1412"/>
<polygon points="978.2,444 969.2,445.4 970.6,438.8" fill="#1e1412"/>
<path d="M946.5,437L923,404.8" stroke="#e01818" stroke-width="1.4" stroke-dasharray="3 2.2" fill="none"/>
<path d="M946,427.8L955.4,432.2L955.8,440" stroke="#e01818" stroke-width="1.4" stroke-dasharray="3 2.2" fill="none"/>
<path d="M946.5,437L939.8,415" stroke="#e01818" stroke-width="1.7" fill="none"/>
<polygon points="937.6,408.2 943.4,415.4 936.6,417.4" fill="#e01818"/>
<path d="M941.5,387.2Q929,388.6 922.4,395.6" stroke="#1e1412" stroke-width="1.4" fill="none"/>
<polygon points="919.4,398.4 921.2,391.6 926,396.2" fill="#1e1412"/>
<text x="918.6" y="382.5" font-size="19" fill="#1e1412" stroke="none" class="se">φ</text>
<text x="956" y="387.2" font-size="21" fill="#1e1412" class="it" stroke="#1e1412" stroke-width="0.3">x</text>
<text x="957.6" y="423.4" font-size="20" fill="#1e1412" class="se" stroke="#1e1412" stroke-width="0.3">θ</text>
<text x="888.4" y="456.6" font-size="21" fill="#1e1412" class="it" stroke="#1e1412" stroke-width="0.3">y</text>
<text x="960.8" y="461.4" font-size="21" fill="#1e1412" class="it" stroke="#1e1412" stroke-width="0.3">z</text>
</g>
</g>
<g id="panelB">
<text x="0.4" y="581.8" font-size="32.3" fill="#231815" text-anchor="start" class="b" stroke="#231815" stroke-width="0.3">B</text>
<rect x="27.2" y="608.2" width="165.7" height="257" fill="#fce9dd"/>
<polygon points="192.8,608.2 440.5,764 192.8,865.2" fill="#fdf1ea"/>
<rect x="771.3" y="608.3" width="165.1" height="256.9" fill="#e4e9f6"/>
<polygon points="588,666.5 771.4,608.3 771.4,865.2" fill="#f6f8fc"/>
<polygon points="255.8,824.2 255.8,814.6 257.7,768.5 259.6,739.6 261.5,712.7 263.5,681.9 265.4,653.1 267.3,633.8 268.8,623.3 270.2,619.4 271.5,616.9 272.7,620.4 274.0,620.0 275.4,625.2 276.9,627.1 278.8,633.8 280.8,636.7 282.7,642.5 284.6,644.4 286.5,650.2 288.1,652.1 289.2,662.7 290.0,666.5 291.3,668.5 292.7,667.5 293.8,671.3 295.4,681.9 296.9,691.5 298.1,697.3 299.6,697.3 301.2,700.2 302.9,703.1 304.4,706.9 305.6,712.7 306.3,724.2 306.9,739.6 307.7,758.8 308.5,781.9 309.2,797.3 310.0,783.8 310.8,758.8 311.5,739.6 312.7,731.0 313.8,730.0 315.4,733.8 317.3,739.6 319.2,745.4 321.2,750.2 322.7,754.0 323.7,768.5 324.4,793.5 325.2,808.8 326.0,797.3 326.9,778.1 328.1,767.5 329.8,765.6 332.7,765.6 335.6,766.2 337.5,769.4 339.4,774.2 340.8,781.9 341.9,795.4 342.9,812.7 343.8,824.2" fill="#f5f0c8"/>
<polygon points="349.0,824.2 351.0,818.5 352.9,808.8 354.8,799.2 356.7,793.5 358.7,790.6 360.6,791.2 363.5,793.5 366.3,795.0 369.2,796.9 373.1,800.2 376.0,803.5 378.5,808.8 380.4,815.6 381.7,820.4 382.7,824.2" fill="#f5f0c8"/>
<polygon points="395.8,824.2 396.9,816.5 398.5,815.0 399.6,820.4 400.8,820.0 401.9,813.7 403.5,816.2 405.0,815.0 407.7,813.7 411.5,814.0 417.3,815.6 423.1,817.3 428.8,819.2 434.6,821.5 439.4,823.5 440.4,824.2" fill="#f5f0c8"/>
<polygon points="446.3,824.2 446.9,778.1 447.7,730.0 448.8,685.8 450.4,662.7 452.1,648.3 454.0,636.7 456.0,631.9 458.8,629.6 460.0,633.8 461.2,643.5 462.3,666.5 463.3,705.0 464.0,751.2 464.6,787.7 465.2,824.2" fill="#d5e6ef"/>
<polygon points="468.5,824.2 469.0,768.5 469.8,710.8 470.6,668.5 471.3,643.5 472.1,651.2 473.1,656.9 474.2,666.5 475.6,676.2 476.7,691.5 477.9,730.0 479.0,770.4 480.4,805.0 481.9,824.2" fill="#d5e6ef"/>
<polygon points="518.5,824.2 518.8,720.4 519.4,662.7 520.4,646.3 522.3,642.5 525.2,641.2 528.1,639.6 530.4,638.8 532.3,641.5 533.8,647.3 535.0,656.9 536.0,678.1 536.7,712.7 537.5,751.2 538.3,778.1 539.0,770.4 540.0,749.2 541.2,722.3 542.5,691.5 543.8,666.5 545.4,648.3 547.3,640.6 549.6,636.7 553.1,635.8 558.8,636.2 564.6,636.7 570.4,637.7 574.2,638.8 577.1,642.5 579.6,650.2 581.5,659.8 583.1,672.3 584.2,687.7 585.4,705.0 586.7,728.1 588.1,751.2 589.6,770.4 591.2,783.8 592.7,789.6 594.2,797.3 595.8,805.0 597.3,816.5 599.2,824.2" fill="#d5e6ef"/>
<polygon points="508.5,824.2 510.0,812.7 511.5,801.2 513.1,789.6 514.6,774.2 516.2,762.7 518.1,758.8 518.1,824.2" fill="#e8f1f6"/>
<polygon points="631.5,824.2 632.5,817.5 633.8,816.5 635.0,821.3 636.3,815.6 637.7,824.2 640.8,824.2 641.5,789.6 642.3,812.7 643.5,810.8 644.6,816.5 646.2,811.7 647.3,795.4 648.5,814.6 649.6,816.5 650.8,797.3 651.9,778.1 653.1,762.7 654.2,778.1 655.4,797.3 656.9,814.6 658.5,824.2 660.0,824.2 661.2,797.3 662.3,774.2 663.5,789.6 664.6,801.2 665.8,774.2 666.9,797.3 668.1,816.5 669.2,824.2 670.4,816.5 671.5,824.2 674.6,824.2 675.4,810.8 676.5,824.2 682.7,824.2 683.5,808.8 684.6,799.2 685.8,812.7 686.9,824.2 688.5,824.2 689.2,813.7 690.4,824.2 694.2,824.2 695.0,814.6 696.2,824.2 702.7,824.2 703.5,819.4 704.2,824.2" fill="#dbe9f1"/>
<path d="M255.7,825.5H517.6V621.3H586.7V825.5H751.8" fill="none" stroke="#1f69ad" stroke-width="2.7" stroke-linejoin="miter"/>
<path d="M255.7,825.5H441.5V621.3H749.8" fill="none" stroke="#c8241c" stroke-width="2.7" stroke-dasharray="12.1 12.4" stroke-dashoffset="0.6"/>
<path d="M272.5,834.8v-4M272.5,611.5v4M314.7,834.8v-4M314.7,611.5v4M356.9,834.8v-4M356.9,611.5v4M399.1,834.8v-4M399.1,611.5v4M441.3,834.8v-4M441.3,611.5v4M517.6,834.8v-4M517.6,611.5v4M586.7,834.8v-4M586.7,611.5v4M255.5,825.5h5M751.8,825.5h-5M255.5,621.3h5M751.8,621.3h-5" stroke="#3a3230" stroke-width="1.2" fill="none"/>
<rect x="255.5" y="611.5" width="496.3" height="223.3" fill="none" stroke="#4c4846" stroke-width="1.5"/>
<text x="269.4" y="860.7" font-size="21.2" fill="#231815" text-anchor="middle" stroke="#231815" stroke-width="0.3">0.5</text>
<text x="313.0" y="860.7" font-size="21.2" fill="#231815" text-anchor="middle" stroke="#231815" stroke-width="0.3">1</text>
<text x="353.9" y="860.7" font-size="21.2" fill="#231815" text-anchor="middle" stroke="#231815" stroke-width="0.3">1.5</text>
<text x="397.6" y="860.7" font-size="21.2" fill="#231815" text-anchor="middle" stroke="#231815" stroke-width="0.3">2</text>
<text x="438.1" y="860.7" font-size="21.2" fill="#231815" text-anchor="middle" stroke="#231815" stroke-width="0.3">2.5</text>
<text x="516.0" y="860.7" font-size="21.2" fill="#231815" text-anchor="middle" stroke="#231815" stroke-width="0.3">8</text>
<text x="585.3" y="860.7" font-size="21.2" fill="#231815" text-anchor="middle" stroke="#231815" stroke-width="0.3">13</text>
<text x="752.1" y="860.7" font-size="21.2" fill="#231815" text-anchor="middle" stroke="#231815" stroke-width="0.3">25</text>
<text x="246.6" y="628.6" font-size="21.2" fill="#231815" text-anchor="end" stroke="#231815" stroke-width="0.3">1</text>
<text x="246.4" y="832.9" font-size="21.2" fill="#231815" text-anchor="end" stroke="#231815" stroke-width="0.3">0</text>
<text transform="translate(227.3,725.6) rotate(-90)" font-size="24" fill="#231815" text-anchor="middle" textLength="108" lengthAdjust="spacingAndGlyphs" stroke="#231815" stroke-width="0.3">Emissivity</text>
<text x="401.9" y="888.4" font-size="24" fill="#231815" textLength="200.8" lengthAdjust="spacingAndGlyphs" stroke="#231815" stroke-width="0.3">Wavelength <tspan class="se" font-size="25">λ</tspan> (µm)</text>
<text x="271.0" y="603.0" font-size="21" fill="#e8da4e" text-anchor="start" textLength="142.0" lengthAdjust="spacingAndGlyphs" stroke="#e8da4e" stroke-width="0.3">Solar spectrum</text>
<text x="437.0" y="602.6" font-size="21" fill="#74b6e4" text-anchor="start" textLength="241.0" lengthAdjust="spacingAndGlyphs" stroke="#74b6e4" stroke-width="0.3">Atmosphere transmission</text>
<circle cx="115.2" cy="681.8" r="50" fill="#e1a084"/>
<circle cx="115.2" cy="681.8" r="50" fill="none" stroke="#231815" stroke-width="1.3"/>
<circle cx="115.2" cy="681.8" r="33.6" fill="none" stroke="#231815" stroke-width="1.3"/>
<circle cx="115.2" cy="681.8" r="16.8" fill="none" stroke="#231815" stroke-width="1.3"/>
<path d="M65.2,681.8H165.2M115.2,631.8V731.8" stroke="#231815" stroke-width="1.3" fill="none"/>
<text x="115.2" y="628.2" font-size="17.3" fill="#231815" text-anchor="middle" stroke="#231815" stroke-width="0.3">0</text>
<text x="115.6" y="750.1" font-size="17.3" fill="#231815" text-anchor="middle" stroke="#231815" stroke-width="0.3">180</text>
<text transform="translate(58.0,682.0) rotate(-90)" font-size="17.3" fill="#231815" text-anchor="middle" stroke="#231815" stroke-width="0.3">90</text>
<text transform="translate(184.0,682.0) rotate(-90)" font-size="17.3" fill="#231815" text-anchor="middle" stroke="#231815" stroke-width="0.3">270</text>
<path d="M115.2,754.8v6.2h49.9v-6.2M131.8,761.0v-5M148.5,761.0v-5" stroke="#231815" stroke-width="1.2" fill="none"/>
<text x="111.4" y="780.8" font-size="17.3" fill="#231815" text-anchor="middle" stroke="#231815" stroke-width="0.3">0</text>
<text x="166.2" y="780.8" font-size="17.3" fill="#231815" text-anchor="middle" stroke="#231815" stroke-width="0.3">90</text>
<text x="134.5" y="804.8" font-size="17.3" fill="#231815" text-anchor="middle" stroke="#231815" stroke-width="0.3"><tspan class="se" font-size="18.5">θ</tspan> (°)</text>
<text x="34.60000000000001" y="630.8" font-size="17.3" fill="#231815" stroke="#231815" stroke-width="0.3"><tspan class="se" font-size="18.5">φ</tspan> (°)</text>
<path d="M92.5,628.4A58,58 0 0 0 63.8,655.0" stroke="#231815" stroke-width="1.3" fill="none"/>
<polygon points="62.0,658.7 62.8,650.6 64.6,653.8 68.1,653.4" fill="#231815"/>
<circle cx="855.8" cy="681.5" r="50" fill="#ffffff"/>
<path d="M805.8,681.5A50,50 0 0 1 905.8,681.5Z" fill="#e1a084"/>
<circle cx="855.8" cy="681.5" r="50" fill="none" stroke="#231815" stroke-width="1.3"/>
<circle cx="855.8" cy="681.5" r="33.6" fill="none" stroke="#231815" stroke-width="1.3"/>
<circle cx="855.8" cy="681.5" r="16.8" fill="none" stroke="#231815" stroke-width="1.3"/>
<path d="M805.8,681.5H905.8M855.8,631.5V731.5" stroke="#231815" stroke-width="1.3" fill="none"/>
<text x="855.8" y="627.9" font-size="17.3" fill="#231815" text-anchor="middle" stroke="#231815" stroke-width="0.3">0</text>
<text x="856.2" y="749.8" font-size="17.3" fill="#231815" text-anchor="middle" stroke="#231815" stroke-width="0.3">180</text>
<text transform="translate(798.5999999999999,681.7) rotate(-90)" font-size="17.3" fill="#231815" text-anchor="middle" stroke="#231815" stroke-width="0.3">90</text>
<text transform="translate(924.5999999999999,681.7) rotate(-90)" font-size="17.3" fill="#231815" text-anchor="middle" stroke="#231815" stroke-width="0.3">270</text>
<path d="M855.8,754.5v6.2h49.9v-6.2M872.4,760.7v-5M889.1,760.7v-5" stroke="#231815" stroke-width="1.2" fill="none"/>
<text x="852.0" y="780.5" font-size="17.3" fill="#231815" text-anchor="middle" stroke="#231815" stroke-width="0.3">0</text>
<text x="906.8" y="780.5" font-size="17.3" fill="#231815" text-anchor="middle" stroke="#231815" stroke-width="0.3">90</text>
<text x="875.0999999999999" y="804.5" font-size="17.3" fill="#231815" text-anchor="middle" stroke="#231815" stroke-width="0.3"><tspan class="se" font-size="18.5">θ</tspan> (°)</text>
<text x="775.1999999999999" y="630.5" font-size="17.3" fill="#231815" stroke="#231815" stroke-width="0.3"><tspan class="se" font-size="18.5">φ</tspan> (°)</text>
<path d="M833.1,628.1A58,58 0 0 0 804.4,654.7" stroke="#231815" stroke-width="1.3" fill="none"/>
<polygon points="802.6,658.4 803.4,650.3 805.2,653.5 808.7,653.1" fill="#231815"/>
<text x="109.8" y="835.1" font-size="18.2" fill="#c8281e" text-anchor="middle" textLength="126.6" lengthAdjust="spacingAndGlyphs" stroke="#c8281e" stroke-width="0.3">Omnidirectional</text>
<text x="112.4" y="857.2" font-size="18.2" fill="#c8281e" text-anchor="middle" textLength="148.0" lengthAdjust="spacingAndGlyphs" stroke="#c8281e" stroke-width="0.3">broadband emitter</text>
<text x="852.2" y="846.3" font-size="18.2" fill="#2368ab" text-anchor="middle" textLength="84.8" lengthAdjust="spacingAndGlyphs" stroke="#2368ab" stroke-width="0.3">AS emitter</text>
<rect x="953.3" y="621" width="18.9" height="205.4" fill="url(#gCB)" stroke="#231815" stroke-width="1.3"/>
<text x="977.6" y="626.8" font-size="20.6" fill="#231815" text-anchor="start" stroke="#231815" stroke-width="0.3">1</text>
<text x="978.2" y="830.8" font-size="20.6" fill="#231815" text-anchor="start" stroke="#231815" stroke-width="0.3">0</text>
<text transform="translate(1004,725.4) rotate(-90)" font-size="24" fill="#231815" text-anchor="middle" textLength="108.5" lengthAdjust="spacingAndGlyphs" stroke="#231815" stroke-width="0.3">Emissivity</text>
</g>
<g id="panelC">
<text x="0.2" y="929.8" font-size="32.3" fill="#231815" text-anchor="start" class="b" stroke="#231815" stroke-width="0.3">C</text>
<rect x="120.5" y="939.4" width="834.6" height="344.8" fill="url(#gC)"/>
<rect x="964.7" y="939.4" width="47.2" height="344.8" fill="url(#gC)"/>
<line x1="120.5" y1="1111.8" x2="1012" y2="1111.8" stroke="#d3d3d3" stroke-width="1.5" stroke-dasharray="12 12.4" stroke-dashoffset="1"/>
<line x1="537.8" y1="939.4" x2="537.8" y2="1284.2" stroke="#2a2420" stroke-width="1.4" stroke-dasharray="12 12.2"/>
<g clip-path="url(#clipC)" fill="none" stroke-width="2.6">
<polyline points="162.2,1297.4 175.4,1288.1 188.7,1278.8 201.9,1269.5 215.1,1260.1 228.3,1250.8 241.5,1241.5 254.7,1232.1 267.9,1222.7 281.2,1213.4 294.4,1204.0 307.6,1194.6 320.8,1185.3 334.0,1175.9 347.2,1166.5 360.4,1157.1 373.7,1147.7 386.9,1138.3 400.1,1128.9 413.3,1119.4 426.5,1110.0 439.7,1100.6 452.9,1091.2 466.2,1081.7 479.4,1072.3 492.6,1062.8 505.8,1053.4 519.0,1043.9 532.2,1034.4 545.5,1024.9 558.7,1015.5 571.9,1006.0 585.1,996.5 598.3,987.0 611.5,977.5 624.7,968.0 638.0,958.4 651.2,948.9 664.4,939.4 677.6,929.9 690.8,920.3" stroke="#1f67a8"/>
<polyline points="120.5,1099.2 141.4,1096.4 162.2,1093.5 183.1,1090.6 204.0,1087.7 224.8,1084.6 245.7,1081.6 266.6,1078.4 287.4,1075.3 308.3,1072.0 329.1,1068.7 350.0,1065.4 370.9,1062.0 391.7,1058.5 412.6,1055.0 433.5,1051.4 454.3,1047.8 475.2,1044.1 496.1,1040.4 516.9,1036.6 537.8,1032.7 558.7,1028.8 579.5,1024.8 600.4,1020.8 621.3,1016.8 642.1,1012.6 663.0,1008.5 683.9,1004.2 704.7,999.9 725.6,995.6 746.5,991.2 767.3,986.7 788.2,982.2 809.0,977.7 829.9,973.0 850.8,968.4 871.6,963.6 892.5,958.8 913.4,954.0 934.2,949.1 955.1,944.1" stroke="#1f67a8" stroke-dasharray="19.3 17.5" stroke-dashoffset="8"/>
<polyline points="496.1,1323.8 502.7,1314.2 509.3,1304.6 515.9,1294.9 522.5,1285.2 529.1,1275.5 535.7,1265.7 542.3,1255.8 548.9,1245.9 555.5,1236.0 562.1,1226.0 568.7,1216.0 575.4,1205.9 582.0,1195.8 588.6,1185.6 595.2,1175.4 601.8,1165.2 608.4,1154.9 615.0,1144.5 621.6,1134.2 628.2,1123.7 634.8,1113.2 641.4,1102.7 648.0,1092.1 654.6,1081.5 661.3,1070.9 667.9,1060.1 674.5,1049.4 681.1,1038.6 687.7,1027.7 694.3,1016.9 700.9,1005.9 707.5,994.9 714.1,983.9 720.7,972.8 727.3,961.7 733.9,950.6 740.5,939.3 747.1,928.1 753.8,916.8 760.4,905.4" stroke="#c8241c"/>
<polyline points="496.1,1300.6 505.1,1292.4 514.2,1284.2 523.2,1275.9 532.2,1267.5 541.3,1259.0 550.3,1250.4 559.4,1241.8 568.4,1233.1 577.4,1224.3 586.5,1215.4 595.5,1206.4 604.6,1197.4 613.6,1188.3 622.7,1179.1 631.7,1169.8 640.7,1160.5 649.8,1151.0 658.8,1141.5 667.9,1131.9 676.9,1122.3 685.9,1112.5 695.0,1102.7 704.0,1092.8 713.1,1082.8 722.1,1072.8 731.1,1062.7 740.2,1052.4 749.2,1042.2 758.3,1031.8 767.3,1021.3 776.4,1010.8 785.4,1000.2 794.4,989.5 803.5,978.8 812.5,967.9 821.6,957.0 830.6,946.0 839.6,934.9 848.7,923.8 857.7,912.6" stroke="#c8241c" stroke-dasharray="19 17.5" stroke-dashoffset="24.9"/>
</g>
<path d="M190.1,1284.2v-5M190.1,939.4v5M259.6,1284.2v-5M259.6,939.4v5M329.1,1284.2v-5M329.1,939.4v5M398.7,1284.2v-5M398.7,939.4v5M468.2,1284.2v-5M468.2,939.4v5M537.8,1284.2v-5M537.8,939.4v5M607.4,1284.2v-5M607.4,939.4v5M676.9,1284.2v-5M676.9,939.4v5M746.5,1284.2v-5M746.5,939.4v5M816.0,1284.2v-5M816.0,939.4v5M885.5,1284.2v-5M885.5,939.4v5M120.5,1241.1h8.6M955.1,1241.1h-8.6M120.5,1198.0h8.6M955.1,1198.0h-8.6M120.5,1154.9h8.6M955.1,1154.9h-8.6M120.5,1111.8h8.6M955.1,1111.8h-8.6M120.5,1068.7h8.6M955.1,1068.7h-8.6M120.5,1025.6h8.6M955.1,1025.6h-8.6M120.5,982.5h8.6M955.1,982.5h-8.6" stroke="#2e2624" stroke-width="1.3" fill="none"/>
<rect x="120.5" y="939.4" width="834.6" height="344.8" fill="none" stroke="#3a3230" stroke-width="1.5"/>
<text x="119.9" y="1309.6" font-size="21.3" fill="#231815" text-anchor="middle" stroke="#231815" stroke-width="0.3">0</text>
<text x="189.5" y="1309.6" font-size="21.3" fill="#231815" text-anchor="middle" stroke="#231815" stroke-width="0.3">5</text>
<text x="259.0" y="1309.6" font-size="21.3" fill="#231815" text-anchor="middle" stroke="#231815" stroke-width="0.3">10</text>
<text x="328.5" y="1309.6" font-size="21.3" fill="#231815" text-anchor="middle" stroke="#231815" stroke-width="0.3">15</text>
<text x="398.1" y="1309.6" font-size="21.3" fill="#231815" text-anchor="middle" stroke="#231815" stroke-width="0.3">20</text>
<text x="467.6" y="1309.6" font-size="21.3" fill="#231815" text-anchor="middle" stroke="#231815" stroke-width="0.3">25</text>
<text x="537.2" y="1309.6" font-size="21.3" fill="#231815" text-anchor="middle" stroke="#231815" stroke-width="0.3">30</text>
<text x="606.8" y="1309.6" font-size="21.3" fill="#231815" text-anchor="middle" stroke="#231815" stroke-width="0.3">35</text>
<text x="676.3" y="1309.6" font-size="21.3" fill="#231815" text-anchor="middle" stroke="#231815" stroke-width="0.3">40</text>
<text x="745.9" y="1309.6" font-size="21.3" fill="#231815" text-anchor="middle" stroke="#231815" stroke-width="0.3">45</text>
<text x="815.4" y="1309.6" font-size="21.3" fill="#231815" text-anchor="middle" stroke="#231815" stroke-width="0.3">50</text>
<text x="884.9" y="1309.6" font-size="21.3" fill="#231815" text-anchor="middle" stroke="#231815" stroke-width="0.3">55</text>
<text x="954.5" y="1309.6" font-size="21.3" fill="#231815" text-anchor="middle" stroke="#231815" stroke-width="0.3">60</text>
<text x="106.8" y="1290.8" font-size="21.3" fill="#231815" text-anchor="end" stroke="#231815" stroke-width="0.3">-80</text>
<text x="106.8" y="1247.7" font-size="21.3" fill="#231815" text-anchor="end" stroke="#231815" stroke-width="0.3">-60</text>
<text x="106.8" y="1204.6" font-size="21.3" fill="#231815" text-anchor="end" stroke="#231815" stroke-width="0.3">-40</text>
<text x="106.8" y="1161.5" font-size="21.3" fill="#231815" text-anchor="end" stroke="#231815" stroke-width="0.3">-20</text>
<text x="106.8" y="1118.4" font-size="21.3" fill="#231815" text-anchor="end" stroke="#231815" stroke-width="0.3">0</text>
<text x="106.8" y="1075.3" font-size="21.3" fill="#231815" text-anchor="end" stroke="#231815" stroke-width="0.3">20</text>
<text x="106.8" y="1032.2" font-size="21.3" fill="#231815" text-anchor="end" stroke="#231815" stroke-width="0.3">40</text>
<text x="106.8" y="989.1" font-size="21.3" fill="#231815" text-anchor="end" stroke="#231815" stroke-width="0.3">60</text>
<text x="106.8" y="946.0" font-size="21.3" fill="#231815" text-anchor="end" stroke="#231815" stroke-width="0.3">80</text>
<text transform="translate(57.1,1171.6) rotate(-90)" font-size="24.3" fill="#231815" textLength="119" lengthAdjust="spacingAndGlyphs" stroke="#231815" stroke-width="0.3"><tspan class="it">P</tspan><tspan font-size="12.5" dy="8.3">net</tspan><tspan dy="-8.3"> (W m</tspan><tspan font-size="13" dy="-8.8">-2</tspan><tspan dy="8.8">)</tspan></text>
<text x="377.5" y="1342.5" font-size="24.6" fill="#231815" textLength="322" lengthAdjust="spacingAndGlyphs" stroke="#231815" stroke-width="0.3">Temperature of emitter <tspan class="it">T</tspan> (°C)</text>
<text x="404.6" y="972.8" font-size="20.8" fill="#231815" stroke="#231815" stroke-width="0.3"><tspan class="it">T</tspan><tspan font-size="12.6" dy="7.5" dx="-1.5">amb</tspan><tspan dy="-7.5" dx="0.8" font-size="21.1"> = 30°C</tspan></text>
<text x="317.5" y="1099.0" font-size="21" fill="#2368ab" text-anchor="start" textLength="98.5" lengthAdjust="spacingAndGlyphs" stroke="#2368ab" stroke-width="0.3">AS emitter</text>
<text x="443.2" y="1211.0" font-size="21" fill="#c8281e" text-anchor="middle" textLength="148.5" lengthAdjust="spacingAndGlyphs" stroke="#c8281e" stroke-width="0.3">Omnidirectional</text>
<text x="445.0" y="1236.5" font-size="21" fill="#c8281e" text-anchor="middle" textLength="172.0" lengthAdjust="spacingAndGlyphs" stroke="#c8281e" stroke-width="0.3">broadband emitter</text>
<text x="928.2" y="1194.5" font-size="21.5" fill="#8c8c8c" text-anchor="end" stroke="#8c8c8c" stroke-width="0.3"><tspan class="it">T</tspan><tspan font-size="12" dy="5.6" dx="-1.5">g</tspan><tspan dy="-5.6"> = 60°C</tspan></text>
<text x="921.8" y="1227.3" font-size="21.5" fill="#8c8c8c" text-anchor="end" stroke="#8c8c8c" stroke-width="0.3">Solid line <tspan class="it">h</tspan><tspan font-size="12" dy="6.4">c</tspan><tspan dy="-6.4"> = 3.5 W m</tspan><tspan font-size="12.5" dy="-6.5">-2</tspan><tspan dy="6.5"> K</tspan><tspan font-size="12.5" dy="-6.5">-1</tspan></text>
<text x="921.8" y="1256.4" font-size="21.5" fill="#8c8c8c" text-anchor="end" stroke="#8c8c8c" stroke-width="0.3">Dashed line <tspan class="it">h</tspan><tspan font-size="12" dy="6.4">c</tspan><tspan dy="-6.4"> = 0 W m</tspan><tspan font-size="12.5" dy="-6.5">-2</tspan><tspan dy="6.5"> K</tspan><tspan font-size="12.5" dy="-6.5">-1</tspan></text>
<text transform="translate(996,1025.7) rotate(-90)" font-size="24" fill="#2368ab" text-anchor="middle" textLength="80.7" lengthAdjust="spacingAndGlyphs" stroke="#2368ab" stroke-width="0.3">Cooling</text>
<text transform="translate(996,1198.3) rotate(-90)" font-size="24" fill="#c8281e" text-anchor="middle" textLength="81.4" lengthAdjust="spacingAndGlyphs" stroke="#c8281e" stroke-width="0.3">Heating</text>
</g>
</svg>
</body></html>
